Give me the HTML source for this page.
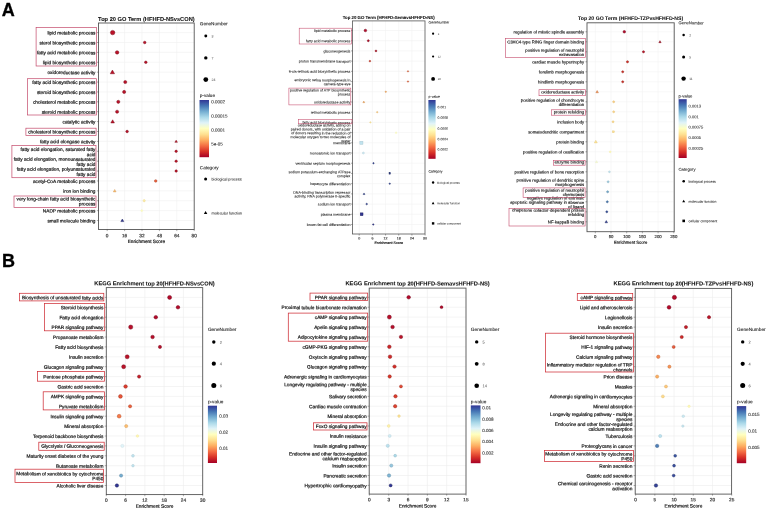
<!DOCTYPE html>
<html><head><meta charset="utf-8"><title>GO / KEGG enrichment</title>
<style>
html,body{margin:0;padding:0;background:#fff;}
body{width:767px;height:509px;overflow:hidden;}
svg{display:block;font-family:"Liberation Sans", sans-serif;will-change:transform;}
</style></head><body>
<svg width="767" height="509" viewBox="0 0 767 509">
<rect width="767" height="509" fill="#fff"/>
<text x="1.8" y="16" font-size="18" font-weight="bold" fill="#000" stroke="#000" stroke-width="0.3">A</text>
<text x="2.1" y="266.8" font-size="18" font-weight="bold" fill="#000" stroke="#000" stroke-width="0.3">B</text>
<g stroke-width="0.35" fill="none">
<line x1="107.20" y1="23" x2="107.20" y2="229.5" stroke="#f0f0f0" stroke-width="0.6"/>
<line x1="124.60" y1="23" x2="124.60" y2="229.5" stroke="#f0f0f0" stroke-width="0.6"/>
<line x1="142.00" y1="23" x2="142.00" y2="229.5" stroke="#f0f0f0" stroke-width="0.6"/>
<line x1="159.40" y1="23" x2="159.40" y2="229.5" stroke="#f0f0f0" stroke-width="0.6"/>
<line x1="176.80" y1="23" x2="176.80" y2="229.5" stroke="#f0f0f0" stroke-width="0.6"/>
<line x1="98.5" y1="32.60" x2="194.2" y2="32.60" stroke="#f0f0f0" stroke-width="0.6"/>
<line x1="98.5" y1="42.49" x2="194.2" y2="42.49" stroke="#f0f0f0" stroke-width="0.6"/>
<line x1="98.5" y1="52.38" x2="194.2" y2="52.38" stroke="#f0f0f0" stroke-width="0.6"/>
<line x1="98.5" y1="62.27" x2="194.2" y2="62.27" stroke="#f0f0f0" stroke-width="0.6"/>
<line x1="98.5" y1="72.16" x2="194.2" y2="72.16" stroke="#f0f0f0" stroke-width="0.6"/>
<line x1="98.5" y1="82.05" x2="194.2" y2="82.05" stroke="#f0f0f0" stroke-width="0.6"/>
<line x1="98.5" y1="91.94" x2="194.2" y2="91.94" stroke="#f0f0f0" stroke-width="0.6"/>
<line x1="98.5" y1="101.83" x2="194.2" y2="101.83" stroke="#f0f0f0" stroke-width="0.6"/>
<line x1="98.5" y1="111.72" x2="194.2" y2="111.72" stroke="#f0f0f0" stroke-width="0.6"/>
<line x1="98.5" y1="121.61" x2="194.2" y2="121.61" stroke="#f0f0f0" stroke-width="0.6"/>
<line x1="98.5" y1="131.50" x2="194.2" y2="131.50" stroke="#f0f0f0" stroke-width="0.6"/>
<line x1="98.5" y1="141.39" x2="194.2" y2="141.39" stroke="#f0f0f0" stroke-width="0.6"/>
<line x1="98.5" y1="151.28" x2="194.2" y2="151.28" stroke="#f0f0f0" stroke-width="0.6"/>
<line x1="98.5" y1="161.17" x2="194.2" y2="161.17" stroke="#f0f0f0" stroke-width="0.6"/>
<line x1="98.5" y1="171.06" x2="194.2" y2="171.06" stroke="#f0f0f0" stroke-width="0.6"/>
<line x1="98.5" y1="180.95" x2="194.2" y2="180.95" stroke="#f0f0f0" stroke-width="0.6"/>
<line x1="98.5" y1="190.84" x2="194.2" y2="190.84" stroke="#f0f0f0" stroke-width="0.6"/>
<line x1="98.5" y1="200.73" x2="194.2" y2="200.73" stroke="#f0f0f0" stroke-width="0.6"/>
<line x1="98.5" y1="210.62" x2="194.2" y2="210.62" stroke="#f0f0f0" stroke-width="0.6"/>
<line x1="98.5" y1="220.51" x2="194.2" y2="220.51" stroke="#f0f0f0" stroke-width="0.6"/>
</g>
<circle cx="112.64" cy="32.60" r="2.22" fill="#bb1229" stroke="#750b19" stroke-width="0.45"/>
<circle cx="144.72" cy="42.49" r="1.29" fill="#bb1229" stroke="#750b19" stroke-width="0.45"/>
<circle cx="117.10" cy="52.38" r="1.75" fill="#bb1229" stroke="#750b19" stroke-width="0.45"/>
<circle cx="145.81" cy="62.27" r="1.29" fill="#bb1229" stroke="#750b19" stroke-width="0.45"/>
<polygon points="112.42,70.03 114.55,73.76 110.29,73.76" fill="#bb1229" stroke="#750b19" stroke-width="0.45"/>
<circle cx="125.25" cy="82.05" r="1.57" fill="#bb1229" stroke="#750b19" stroke-width="0.45"/>
<circle cx="124.16" cy="91.94" r="1.57" fill="#bb1229" stroke="#750b19" stroke-width="0.45"/>
<circle cx="118.29" cy="101.83" r="1.57" fill="#bb1229" stroke="#750b19" stroke-width="0.45"/>
<circle cx="117.10" cy="111.72" r="1.57" fill="#bb1229" stroke="#750b19" stroke-width="0.45"/>
<polygon points="112.64,119.80 114.44,122.96 110.83,122.96" fill="#bb1229" stroke="#750b19" stroke-width="0.45"/>
<circle cx="127.10" cy="131.50" r="1.29" fill="#bb1229" stroke="#750b19" stroke-width="0.45"/>
<polygon points="176.15,140.13 177.41,142.34 174.88,142.34" fill="#be1529" stroke="#780d19" stroke-width="0.45"/>
<circle cx="176.15" cy="151.28" r="1.20" fill="#be1529" stroke="#780d19" stroke-width="0.45"/>
<circle cx="176.15" cy="161.17" r="1.20" fill="#be1529" stroke="#780d19" stroke-width="0.45"/>
<circle cx="176.15" cy="171.06" r="1.20" fill="#be1529" stroke="#780d19" stroke-width="0.45"/>
<circle cx="155.70" cy="180.95" r="1.29" fill="#ee613d" stroke="#a8442b" stroke-width="0.45"/>
<polygon points="114.70,189.46 116.08,191.88 113.32,191.88" fill="#fdbd6f" stroke="#d29d5c" stroke-width="0.45"/>
<circle cx="144.18" cy="200.73" r="1.15" fill="#feeca3" stroke="#e9d895" stroke-width="0.45"/>
<circle cx="141.78" cy="210.62" r="0.96" fill="#ffffbf" stroke="#f4f4b7" stroke-width="0.45"/>
<polygon points="122.32,219.03 123.80,221.62 120.83,221.62" fill="#313695" stroke="#1e215c" stroke-width="0.45"/>
<rect x="98.5" y="23" width="95.70" height="206.50" fill="none" stroke="#555" stroke-width="0.9"/>
<line x1="96.90" y1="32.60" x2="98.5" y2="32.60" stroke="#333" stroke-width="0.4"/>
<text transform="translate(95.50,34.59) skewY(0.06)" font-size="4.75" text-anchor="end" fill="#1a1a1a" stroke="#1a1a1a" stroke-width="0.214">lipid metabolic process</text>
<line x1="96.90" y1="42.49" x2="98.5" y2="42.49" stroke="#333" stroke-width="0.4"/>
<text transform="translate(95.50,44.48) skewY(0.06)" font-size="4.75" text-anchor="end" fill="#1a1a1a" stroke="#1a1a1a" stroke-width="0.214">sterol biosynthetic process</text>
<line x1="96.90" y1="52.38" x2="98.5" y2="52.38" stroke="#333" stroke-width="0.4"/>
<text transform="translate(95.50,54.38) skewY(0.06)" font-size="4.75" text-anchor="end" fill="#1a1a1a" stroke="#1a1a1a" stroke-width="0.214">fatty acid metabolic process</text>
<line x1="96.90" y1="62.27" x2="98.5" y2="62.27" stroke="#333" stroke-width="0.4"/>
<text transform="translate(95.50,64.27) skewY(0.06)" font-size="4.75" text-anchor="end" fill="#1a1a1a" stroke="#1a1a1a" stroke-width="0.214">lipid biosynthetic process</text>
<line x1="96.90" y1="72.16" x2="98.5" y2="72.16" stroke="#333" stroke-width="0.4"/>
<text transform="translate(95.50,74.16) skewY(0.06)" font-size="4.75" text-anchor="end" fill="#1a1a1a" stroke="#1a1a1a" stroke-width="0.214">oxidoreductase activity</text>
<line x1="96.90" y1="82.05" x2="98.5" y2="82.05" stroke="#333" stroke-width="0.4"/>
<text transform="translate(95.50,84.05) skewY(0.06)" font-size="4.75" text-anchor="end" fill="#1a1a1a" stroke="#1a1a1a" stroke-width="0.214">fatty acid biosynthetic process</text>
<line x1="96.90" y1="91.94" x2="98.5" y2="91.94" stroke="#333" stroke-width="0.4"/>
<text transform="translate(95.50,93.94) skewY(0.06)" font-size="4.75" text-anchor="end" fill="#1a1a1a" stroke="#1a1a1a" stroke-width="0.214">steroid biosynthetic process</text>
<line x1="96.90" y1="101.83" x2="98.5" y2="101.83" stroke="#333" stroke-width="0.4"/>
<text transform="translate(95.50,103.83) skewY(0.06)" font-size="4.75" text-anchor="end" fill="#1a1a1a" stroke="#1a1a1a" stroke-width="0.214">cholesterol metabolic process</text>
<line x1="96.90" y1="111.72" x2="98.5" y2="111.72" stroke="#333" stroke-width="0.4"/>
<text transform="translate(95.50,113.72) skewY(0.06)" font-size="4.75" text-anchor="end" fill="#1a1a1a" stroke="#1a1a1a" stroke-width="0.214">steroid metabolic process</text>
<line x1="96.90" y1="121.61" x2="98.5" y2="121.61" stroke="#333" stroke-width="0.4"/>
<text transform="translate(95.50,123.61) skewY(0.06)" font-size="4.75" text-anchor="end" fill="#1a1a1a" stroke="#1a1a1a" stroke-width="0.214">catalytic activity</text>
<line x1="96.90" y1="131.50" x2="98.5" y2="131.50" stroke="#333" stroke-width="0.4"/>
<text transform="translate(95.50,133.50) skewY(0.06)" font-size="4.75" text-anchor="end" fill="#1a1a1a" stroke="#1a1a1a" stroke-width="0.214">cholesterol biosynthetic process</text>
<line x1="96.90" y1="141.39" x2="98.5" y2="141.39" stroke="#333" stroke-width="0.4"/>
<text transform="translate(95.50,143.39) skewY(0.06)" font-size="4.75" text-anchor="end" fill="#1a1a1a" stroke="#1a1a1a" stroke-width="0.214">fatty acid elongase activity</text>
<line x1="96.90" y1="151.28" x2="98.5" y2="151.28" stroke="#333" stroke-width="0.4"/>
<text transform="translate(95.50,151.01) skewY(0.06)" font-size="4.75" text-anchor="end" fill="#1a1a1a" stroke="#1a1a1a" stroke-width="0.214">fatty acid elongation, saturated fatty</text>
<text transform="translate(95.50,156.14) skewY(0.06)" font-size="4.75" text-anchor="end" fill="#1a1a1a" stroke="#1a1a1a" stroke-width="0.214">acid</text>
<line x1="96.90" y1="161.17" x2="98.5" y2="161.17" stroke="#333" stroke-width="0.4"/>
<text transform="translate(95.50,160.90) skewY(0.06)" font-size="4.75" text-anchor="end" fill="#1a1a1a" stroke="#1a1a1a" stroke-width="0.214">fatty acid elongation, monounsaturated</text>
<text transform="translate(95.50,166.03) skewY(0.06)" font-size="4.75" text-anchor="end" fill="#1a1a1a" stroke="#1a1a1a" stroke-width="0.214">fatty acid</text>
<line x1="96.90" y1="171.06" x2="98.5" y2="171.06" stroke="#333" stroke-width="0.4"/>
<text transform="translate(95.50,170.79) skewY(0.06)" font-size="4.75" text-anchor="end" fill="#1a1a1a" stroke="#1a1a1a" stroke-width="0.214">fatty acid elongation, polyunsaturated</text>
<text transform="translate(95.50,175.92) skewY(0.06)" font-size="4.75" text-anchor="end" fill="#1a1a1a" stroke="#1a1a1a" stroke-width="0.214">fatty acid</text>
<line x1="96.90" y1="180.95" x2="98.5" y2="180.95" stroke="#333" stroke-width="0.4"/>
<text transform="translate(95.50,182.95) skewY(0.06)" font-size="4.75" text-anchor="end" fill="#1a1a1a" stroke="#1a1a1a" stroke-width="0.214">acetyl-CoA metabolic process</text>
<line x1="96.90" y1="190.84" x2="98.5" y2="190.84" stroke="#333" stroke-width="0.4"/>
<text transform="translate(95.50,192.84) skewY(0.06)" font-size="4.75" text-anchor="end" fill="#1a1a1a" stroke="#1a1a1a" stroke-width="0.214">iron ion binding</text>
<line x1="96.90" y1="200.73" x2="98.5" y2="200.73" stroke="#333" stroke-width="0.4"/>
<text transform="translate(95.50,200.46) skewY(0.06)" font-size="4.75" text-anchor="end" fill="#1a1a1a" stroke="#1a1a1a" stroke-width="0.214">very long-chain fatty acid biosynthetic</text>
<text transform="translate(95.50,205.59) skewY(0.06)" font-size="4.75" text-anchor="end" fill="#1a1a1a" stroke="#1a1a1a" stroke-width="0.214">process</text>
<line x1="96.90" y1="210.62" x2="98.5" y2="210.62" stroke="#333" stroke-width="0.4"/>
<text transform="translate(95.50,212.62) skewY(0.06)" font-size="4.75" text-anchor="end" fill="#1a1a1a" stroke="#1a1a1a" stroke-width="0.214">NADP metabolic process</text>
<line x1="96.90" y1="220.51" x2="98.5" y2="220.51" stroke="#333" stroke-width="0.4"/>
<text transform="translate(95.50,222.51) skewY(0.06)" font-size="4.75" text-anchor="end" fill="#1a1a1a" stroke="#1a1a1a" stroke-width="0.214">small molecule binding</text>
<line x1="107.20" y1="229.5" x2="107.20" y2="231.1" stroke="#333" stroke-width="0.4"/>
<text transform="translate(107.20,237.30) skewY(0.06)" font-size="4.75" text-anchor="middle" fill="#404040" stroke="#404040" stroke-width="0.214">0</text>
<line x1="124.60" y1="229.5" x2="124.60" y2="231.1" stroke="#333" stroke-width="0.4"/>
<text transform="translate(124.60,237.30) skewY(0.06)" font-size="4.75" text-anchor="middle" fill="#404040" stroke="#404040" stroke-width="0.214">16</text>
<line x1="142.00" y1="229.5" x2="142.00" y2="231.1" stroke="#333" stroke-width="0.4"/>
<text transform="translate(142.00,237.30) skewY(0.06)" font-size="4.75" text-anchor="middle" fill="#404040" stroke="#404040" stroke-width="0.214">32</text>
<line x1="159.40" y1="229.5" x2="159.40" y2="231.1" stroke="#333" stroke-width="0.4"/>
<text transform="translate(159.40,237.30) skewY(0.06)" font-size="4.75" text-anchor="middle" fill="#404040" stroke="#404040" stroke-width="0.214">48</text>
<line x1="176.80" y1="229.5" x2="176.80" y2="231.1" stroke="#333" stroke-width="0.4"/>
<text transform="translate(176.80,237.30) skewY(0.06)" font-size="4.75" text-anchor="middle" fill="#404040" stroke="#404040" stroke-width="0.214">64</text>
<line x1="194.20" y1="229.5" x2="194.20" y2="231.1" stroke="#333" stroke-width="0.4"/>
<text transform="translate(194.20,237.30) skewY(0.06)" font-size="4.75" text-anchor="middle" fill="#404040" stroke="#404040" stroke-width="0.214">80</text>
<text transform="translate(146.35,242.98) skewY(0.06)" font-size="4.71" text-anchor="middle" fill="#1a1a1a" stroke="#1a1a1a" stroke-width="0.212">Enrichment Score</text>
<text transform="translate(146.35,20.99) skewY(0.06)" font-size="5.68" text-anchor="middle" font-weight="bold" fill="#111" stroke="#111" stroke-width="0.068">Top 20 GO Term (HFHFD-NSvsCON)</text>
<rect x="36.1" y="27.6" width="60.40" height="38.40" fill="none" stroke="#c4496a" stroke-width="0.7"/>
<rect x="27.6" y="78.7" width="68.90" height="36.30" fill="none" stroke="#c4496a" stroke-width="0.7"/>
<rect x="25.9" y="128.2" width="70.20" height="7.30" fill="none" stroke="#c4496a" stroke-width="0.7"/>
<rect x="11.9" y="145.5" width="84.10" height="32.20" fill="none" stroke="#c4496a" stroke-width="0.7"/>
<rect x="14" y="196" width="82.00" height="11.50" fill="none" stroke="#c4496a" stroke-width="0.7"/>
<text transform="translate(199.80,25.14) skewY(0.06)" font-size="4.63" text-anchor="start" fill="#222" stroke="#222" stroke-width="0.093">GeneNumber</text>
<circle cx="205.8" cy="36.0" r="1.45" fill="#000"/>
<text transform="translate(211.50,37.51) skewY(0.06)" font-size="3.6" text-anchor="start" fill="#444">3</text>
<circle cx="205.8" cy="57.9" r="1.7" fill="#000"/>
<text transform="translate(211.50,59.41) skewY(0.06)" font-size="3.6" text-anchor="start" fill="#444">7</text>
<circle cx="205.8" cy="79.6" r="2.4" fill="#000"/>
<text transform="translate(211.50,81.11) skewY(0.06)" font-size="3.6" text-anchor="start" fill="#444">24</text>
<text transform="translate(199.80,96.94) skewY(0.06)" font-size="4.63" text-anchor="start" fill="#222" stroke="#222" stroke-width="0.093">p-value</text>
<defs><linearGradient id="a1g" x1="0" y1="0" x2="0" y2="1"><stop offset="0.000" stop-color="#313695"/><stop offset="0.100" stop-color="#4575b4"/><stop offset="0.200" stop-color="#74add1"/><stop offset="0.300" stop-color="#abd9e9"/><stop offset="0.400" stop-color="#e0f3f8"/><stop offset="0.500" stop-color="#ffffbf"/><stop offset="0.600" stop-color="#fee090"/><stop offset="0.700" stop-color="#fdae61"/><stop offset="0.800" stop-color="#f46d43"/><stop offset="0.900" stop-color="#d73027"/><stop offset="1.000" stop-color="#a50026"/></linearGradient></defs>
<rect x="199.5" y="100" width="9.50" height="57.20" fill="url(#a1g)"/>
<text transform="translate(211.20,103.19) skewY(0.06)" font-size="4.5" text-anchor="start" fill="#333" stroke="#333" stroke-width="0.090">0.0002</text>
<text transform="translate(211.20,117.39) skewY(0.06)" font-size="4.5" text-anchor="start" fill="#333" stroke="#333" stroke-width="0.090">0.00015</text>
<text transform="translate(211.20,131.49) skewY(0.06)" font-size="4.5" text-anchor="start" fill="#333" stroke="#333" stroke-width="0.090">0.0001</text>
<text transform="translate(211.20,145.59) skewY(0.06)" font-size="4.5" text-anchor="start" fill="#333" stroke="#333" stroke-width="0.090">5e-05</text>
<text transform="translate(199.80,169.24) skewY(0.06)" font-size="4.63" text-anchor="start" fill="#222" stroke="#222" stroke-width="0.093">Category</text>
<circle cx="205.60" cy="178.90" r="1.50" fill="#000000"/>
<text transform="translate(211.50,180.49) skewY(0.06)" font-size="3.79" text-anchor="start" fill="#333" stroke="#333" stroke-width="0.076">biological process</text>
<polygon points="205.60,211.08 207.32,214.09 203.88,214.09" fill="#000000"/>
<text transform="translate(211.50,214.39) skewY(0.06)" font-size="3.79" text-anchor="start" fill="#333" stroke="#333" stroke-width="0.076">molecular function</text>
<g stroke-width="0.35" fill="none">
<line x1="359.20" y1="20.9" x2="359.20" y2="234" stroke="#f2f2f2" stroke-width="0.6"/>
<line x1="372.38" y1="20.9" x2="372.38" y2="234" stroke="#f2f2f2" stroke-width="0.6"/>
<line x1="385.56" y1="20.9" x2="385.56" y2="234" stroke="#f2f2f2" stroke-width="0.6"/>
<line x1="398.74" y1="20.9" x2="398.74" y2="234" stroke="#f2f2f2" stroke-width="0.6"/>
<line x1="411.92" y1="20.9" x2="411.92" y2="234" stroke="#f2f2f2" stroke-width="0.6"/>
<line x1="352.4" y1="30.50" x2="425" y2="30.50" stroke="#f2f2f2" stroke-width="0.6"/>
<line x1="352.4" y1="40.71" x2="425" y2="40.71" stroke="#f2f2f2" stroke-width="0.6"/>
<line x1="352.4" y1="50.92" x2="425" y2="50.92" stroke="#f2f2f2" stroke-width="0.6"/>
<line x1="352.4" y1="61.13" x2="425" y2="61.13" stroke="#f2f2f2" stroke-width="0.6"/>
<line x1="352.4" y1="71.34" x2="425" y2="71.34" stroke="#f2f2f2" stroke-width="0.6"/>
<line x1="352.4" y1="81.55" x2="425" y2="81.55" stroke="#f2f2f2" stroke-width="0.6"/>
<line x1="352.4" y1="91.76" x2="425" y2="91.76" stroke="#f2f2f2" stroke-width="0.6"/>
<line x1="352.4" y1="101.97" x2="425" y2="101.97" stroke="#f2f2f2" stroke-width="0.6"/>
<line x1="352.4" y1="112.18" x2="425" y2="112.18" stroke="#f2f2f2" stroke-width="0.6"/>
<line x1="352.4" y1="122.39" x2="425" y2="122.39" stroke="#f2f2f2" stroke-width="0.6"/>
<line x1="352.4" y1="132.60" x2="425" y2="132.60" stroke="#f2f2f2" stroke-width="0.6"/>
<line x1="352.4" y1="142.81" x2="425" y2="142.81" stroke="#f2f2f2" stroke-width="0.6"/>
<line x1="352.4" y1="153.02" x2="425" y2="153.02" stroke="#f2f2f2" stroke-width="0.6"/>
<line x1="352.4" y1="163.23" x2="425" y2="163.23" stroke="#f2f2f2" stroke-width="0.6"/>
<line x1="352.4" y1="173.44" x2="425" y2="173.44" stroke="#f2f2f2" stroke-width="0.6"/>
<line x1="352.4" y1="183.65" x2="425" y2="183.65" stroke="#f2f2f2" stroke-width="0.6"/>
<line x1="352.4" y1="193.86" x2="425" y2="193.86" stroke="#f2f2f2" stroke-width="0.6"/>
<line x1="352.4" y1="204.07" x2="425" y2="204.07" stroke="#f2f2f2" stroke-width="0.6"/>
<line x1="352.4" y1="214.28" x2="425" y2="214.28" stroke="#f2f2f2" stroke-width="0.6"/>
<line x1="352.4" y1="224.49" x2="425" y2="224.49" stroke="#f2f2f2" stroke-width="0.6"/>
</g>
<circle cx="365.39" cy="30.50" r="1.30" fill="#b40a2a" stroke="#70061a" stroke-width="0.45"/>
<circle cx="368.29" cy="40.71" r="1.00" fill="#b80e2a" stroke="#73081a" stroke-width="0.45"/>
<circle cx="375.98" cy="50.92" r="0.90" fill="#be1529" stroke="#780d19" stroke-width="0.45"/>
<circle cx="369.90" cy="61.13" r="0.80" fill="#e0422f" stroke="#962c1f" stroke-width="0.45"/>
<circle cx="407.97" cy="71.34" r="0.70" fill="#f46d43" stroke="#b04e30" stroke-width="0.45"/>
<circle cx="407.97" cy="81.55" r="0.70" fill="#f46d43" stroke="#b04e30" stroke-width="0.45"/>
<circle cx="385.78" cy="91.76" r="0.70" fill="#fdae61" stroke="#cc8c4e" stroke-width="0.45"/>
<polygon points="363.81,101.05 364.73,102.66 362.89,102.66" fill="#fdae61" stroke="#cc8c4e" stroke-width="0.45"/>
<circle cx="377.21" cy="112.18" r="0.70" fill="#fecc7d" stroke="#d9ae6b" stroke-width="0.45"/>
<circle cx="370.40" cy="122.39" r="0.70" fill="#fee699" stroke="#e5d08a" stroke-width="0.45"/>
<polygon points="396.10,131.68 397.02,133.29 395.18,133.29" fill="#ffffbf" stroke="#f4f4b7" stroke-width="0.45"/>
<rect x="359.85" y="141.26" width="3.10" height="3.10" fill="#c0e3ef" stroke="#a8c7d1" stroke-width="0.45"/>
<circle cx="363.37" cy="153.02" r="1.00" fill="#cbe9f2" stroke="#b5d0d8" stroke-width="0.45"/>
<circle cx="373.48" cy="163.23" r="0.70" fill="#37499e" stroke="#222e64" stroke-width="0.45"/>
<rect x="389.03" y="172.74" width="1.40" height="1.40" fill="#37499e" stroke="#222e64" stroke-width="0.45"/>
<circle cx="389.73" cy="183.65" r="0.70" fill="#37499e" stroke="#222e64" stroke-width="0.45"/>
<polygon points="364.03,192.94 364.95,194.55 363.11,194.55" fill="#37499e" stroke="#222e64" stroke-width="0.45"/>
<circle cx="366.67" cy="204.07" r="0.80" fill="#37499e" stroke="#222e64" stroke-width="0.45"/>
<rect x="360.22" y="212.88" width="2.80" height="2.80" fill="#313695" stroke="#1e215c" stroke-width="0.45"/>
<circle cx="373.26" cy="224.49" r="0.70" fill="#313695" stroke="#1e215c" stroke-width="0.45"/>
<rect x="352.4" y="20.9" width="72.60" height="213.10" fill="none" stroke="#555" stroke-width="0.8"/>
<line x1="350.80" y1="30.50" x2="352.4" y2="30.50" stroke="#333" stroke-width="0.4"/>
<text transform="translate(350.40,32.01) skewY(0.06)" font-size="3.6" text-anchor="end" fill="#262626" stroke="#262626" stroke-width="0.072">lipid metabolic process</text>
<line x1="350.80" y1="40.71" x2="352.4" y2="40.71" stroke="#333" stroke-width="0.4"/>
<text transform="translate(350.40,42.22) skewY(0.06)" font-size="3.6" text-anchor="end" fill="#262626" stroke="#262626" stroke-width="0.072">fatty acid metabolic process</text>
<line x1="350.80" y1="50.92" x2="352.4" y2="50.92" stroke="#333" stroke-width="0.4"/>
<text transform="translate(350.40,52.43) skewY(0.06)" font-size="3.6" text-anchor="end" fill="#262626" stroke="#262626" stroke-width="0.072">gluconeogenesis</text>
<line x1="350.80" y1="61.13" x2="352.4" y2="61.13" stroke="#333" stroke-width="0.4"/>
<text transform="translate(350.40,62.64) skewY(0.06)" font-size="3.6" text-anchor="end" fill="#262626" stroke="#262626" stroke-width="0.072">proton transmembrane transport</text>
<line x1="350.80" y1="71.34" x2="352.4" y2="71.34" stroke="#333" stroke-width="0.4"/>
<text transform="translate(350.40,72.85) skewY(0.06)" font-size="3.6" text-anchor="end" fill="#262626" stroke="#262626" stroke-width="0.072">9-cis-retinoic acid biosynthetic process</text>
<line x1="350.80" y1="81.55" x2="352.4" y2="81.55" stroke="#333" stroke-width="0.4"/>
<text transform="translate(350.40,81.41) skewY(0.06)" font-size="3.6" text-anchor="end" fill="#262626" stroke="#262626" stroke-width="0.072">embryonic retina morphogenesis in</text>
<text transform="translate(350.40,85.31) skewY(0.06)" font-size="3.6" text-anchor="end" fill="#262626" stroke="#262626" stroke-width="0.072">camera-type eye</text>
<line x1="350.80" y1="91.76" x2="352.4" y2="91.76" stroke="#333" stroke-width="0.4"/>
<text transform="translate(350.40,91.62) skewY(0.06)" font-size="3.6" text-anchor="end" fill="#262626" stroke="#262626" stroke-width="0.072">positive regulation of ATP biosynthetic</text>
<text transform="translate(350.40,95.52) skewY(0.06)" font-size="3.6" text-anchor="end" fill="#262626" stroke="#262626" stroke-width="0.072">process</text>
<line x1="350.80" y1="101.97" x2="352.4" y2="101.97" stroke="#333" stroke-width="0.4"/>
<text transform="translate(350.40,103.48) skewY(0.06)" font-size="3.6" text-anchor="end" fill="#262626" stroke="#262626" stroke-width="0.072">oxidoreductase activity</text>
<line x1="350.80" y1="112.18" x2="352.4" y2="112.18" stroke="#333" stroke-width="0.4"/>
<text transform="translate(350.40,113.69) skewY(0.06)" font-size="3.6" text-anchor="end" fill="#262626" stroke="#262626" stroke-width="0.072">retinol metabolic process</text>
<line x1="350.80" y1="122.39" x2="352.4" y2="122.39" stroke="#333" stroke-width="0.4"/>
<text transform="translate(350.40,123.90) skewY(0.06)" font-size="3.6" text-anchor="end" fill="#262626" stroke="#262626" stroke-width="0.072">fatty acid biosynthetic process</text>
<line x1="350.80" y1="132.60" x2="352.4" y2="132.60" stroke="#333" stroke-width="0.4"/>
<text transform="translate(350.40,126.61) skewY(0.06)" font-size="3.6" text-anchor="end" fill="#262626" stroke="#262626" stroke-width="0.072">oxidoreductase activity, acting on</text>
<text transform="translate(350.40,130.51) skewY(0.06)" font-size="3.6" text-anchor="end" fill="#262626" stroke="#262626" stroke-width="0.072">paired donors, with oxidation of a pair</text>
<text transform="translate(350.40,134.41) skewY(0.06)" font-size="3.6" text-anchor="end" fill="#262626" stroke="#262626" stroke-width="0.072">of donors resulting in the reduction of</text>
<text transform="translate(350.40,138.31) skewY(0.06)" font-size="3.6" text-anchor="end" fill="#262626" stroke="#262626" stroke-width="0.072">molecular oxygen to two molecules of</text>
<text transform="translate(350.40,142.21) skewY(0.06)" font-size="3.6" text-anchor="end" fill="#262626" stroke="#262626" stroke-width="0.072">water</text>
<line x1="350.80" y1="142.81" x2="352.4" y2="142.81" stroke="#333" stroke-width="0.4"/>
<text transform="translate(350.40,144.32) skewY(0.06)" font-size="3.6" text-anchor="end" fill="#262626" stroke="#262626" stroke-width="0.072">membrane</text>
<line x1="350.80" y1="153.02" x2="352.4" y2="153.02" stroke="#333" stroke-width="0.4"/>
<text transform="translate(350.40,154.53) skewY(0.06)" font-size="3.6" text-anchor="end" fill="#262626" stroke="#262626" stroke-width="0.072">monoatomic ion transport</text>
<line x1="350.80" y1="163.23" x2="352.4" y2="163.23" stroke="#333" stroke-width="0.4"/>
<text transform="translate(350.40,164.74) skewY(0.06)" font-size="3.6" text-anchor="end" fill="#262626" stroke="#262626" stroke-width="0.072">ventricular septum morphogenesis</text>
<line x1="350.80" y1="173.44" x2="352.4" y2="173.44" stroke="#333" stroke-width="0.4"/>
<text transform="translate(350.40,173.30) skewY(0.06)" font-size="3.6" text-anchor="end" fill="#262626" stroke="#262626" stroke-width="0.072">sodium potassium-exchanging ATPase</text>
<text transform="translate(350.40,177.20) skewY(0.06)" font-size="3.6" text-anchor="end" fill="#262626" stroke="#262626" stroke-width="0.072">complex</text>
<line x1="350.80" y1="183.65" x2="352.4" y2="183.65" stroke="#333" stroke-width="0.4"/>
<text transform="translate(350.40,185.16) skewY(0.06)" font-size="3.6" text-anchor="end" fill="#262626" stroke="#262626" stroke-width="0.072">hepatocyte differentiation</text>
<line x1="350.80" y1="193.86" x2="352.4" y2="193.86" stroke="#333" stroke-width="0.4"/>
<text transform="translate(350.40,193.72) skewY(0.06)" font-size="3.6" text-anchor="end" fill="#262626" stroke="#262626" stroke-width="0.072">DNA-binding transcription repressor</text>
<text transform="translate(350.40,197.62) skewY(0.06)" font-size="3.6" text-anchor="end" fill="#262626" stroke="#262626" stroke-width="0.072">activity, RNA polymerase II-specific</text>
<line x1="350.80" y1="204.07" x2="352.4" y2="204.07" stroke="#333" stroke-width="0.4"/>
<text transform="translate(350.40,205.58) skewY(0.06)" font-size="3.6" text-anchor="end" fill="#262626" stroke="#262626" stroke-width="0.072">sodium ion transport</text>
<line x1="350.80" y1="214.28" x2="352.4" y2="214.28" stroke="#333" stroke-width="0.4"/>
<text transform="translate(350.40,215.79) skewY(0.06)" font-size="3.6" text-anchor="end" fill="#262626" stroke="#262626" stroke-width="0.072">plasma membrane</text>
<line x1="350.80" y1="224.49" x2="352.4" y2="224.49" stroke="#333" stroke-width="0.4"/>
<text transform="translate(350.40,226.00) skewY(0.06)" font-size="3.6" text-anchor="end" fill="#262626" stroke="#262626" stroke-width="0.072">brown fat cell differentiation</text>
<line x1="359.20" y1="234" x2="359.20" y2="235.6" stroke="#333" stroke-width="0.4"/>
<text transform="translate(359.20,239.41) skewY(0.06)" font-size="3.6" text-anchor="middle" fill="#404040" stroke="#404040" stroke-width="0.162">0</text>
<line x1="372.38" y1="234" x2="372.38" y2="235.6" stroke="#333" stroke-width="0.4"/>
<text transform="translate(372.38,239.41) skewY(0.06)" font-size="3.6" text-anchor="middle" fill="#404040" stroke="#404040" stroke-width="0.162">6</text>
<line x1="385.56" y1="234" x2="385.56" y2="235.6" stroke="#333" stroke-width="0.4"/>
<text transform="translate(385.56,239.41) skewY(0.06)" font-size="3.6" text-anchor="middle" fill="#404040" stroke="#404040" stroke-width="0.162">12</text>
<line x1="398.74" y1="234" x2="398.74" y2="235.6" stroke="#333" stroke-width="0.4"/>
<text transform="translate(398.74,239.41) skewY(0.06)" font-size="3.6" text-anchor="middle" fill="#404040" stroke="#404040" stroke-width="0.162">18</text>
<line x1="411.92" y1="234" x2="411.92" y2="235.6" stroke="#333" stroke-width="0.4"/>
<text transform="translate(411.92,239.41) skewY(0.06)" font-size="3.6" text-anchor="middle" fill="#404040" stroke="#404040" stroke-width="0.162">24</text>
<line x1="425.10" y1="234" x2="425.10" y2="235.6" stroke="#333" stroke-width="0.4"/>
<text transform="translate(425.10,239.41) skewY(0.06)" font-size="3.6" text-anchor="middle" fill="#404040" stroke="#404040" stroke-width="0.162">30</text>
<text transform="translate(388.70,244.11) skewY(0.06)" font-size="3.6" text-anchor="middle" fill="#1a1a1a" stroke="#1a1a1a" stroke-width="0.162">Enrichment Score</text>
<text transform="translate(388.70,18.93) skewY(0.06)" font-size="4.35" text-anchor="middle" font-weight="bold" fill="#111" stroke="#111" stroke-width="0.087">Top 20 GO Term (HFHFD-SemavsHFHFD-NS)</text>
<rect x="299.2" y="28.2" width="52.10" height="15.80" fill="none" stroke="#c4496a" stroke-width="0.55"/>
<rect x="288.9" y="88.1" width="61.90" height="16.80" fill="none" stroke="#c4496a" stroke-width="0.55"/>
<rect x="298.3" y="119.3" width="53.70" height="4.50" fill="none" stroke="#c4496a" stroke-width="0.55"/>
<text transform="translate(428.60,23.45) skewY(0.06)" font-size="3.45" text-anchor="start" fill="#222" stroke="#222" stroke-width="0.069">GeneNumber</text>
<circle cx="433.1" cy="33.7" r="1.1" fill="#000"/>
<text transform="translate(437.80,34.88) skewY(0.06)" font-size="2.8" text-anchor="start" fill="#444">3</text>
<circle cx="433.1" cy="56.5" r="1.1" fill="#000"/>
<text transform="translate(437.80,57.68) skewY(0.06)" font-size="2.8" text-anchor="start" fill="#444">12</text>
<circle cx="433.1" cy="78.9" r="1.9" fill="#000"/>
<text transform="translate(437.80,80.08) skewY(0.06)" font-size="2.8" text-anchor="start" fill="#444">30</text>
<text transform="translate(428.60,97.75) skewY(0.06)" font-size="3.45" text-anchor="start" fill="#222" stroke="#222" stroke-width="0.069">p-value</text>
<defs><linearGradient id="a2g" x1="0" y1="0" x2="0" y2="1"><stop offset="0.000" stop-color="#313695"/><stop offset="0.100" stop-color="#4575b4"/><stop offset="0.200" stop-color="#74add1"/><stop offset="0.300" stop-color="#abd9e9"/><stop offset="0.400" stop-color="#e0f3f8"/><stop offset="0.500" stop-color="#ffffbf"/><stop offset="0.600" stop-color="#fee090"/><stop offset="0.700" stop-color="#fdae61"/><stop offset="0.800" stop-color="#f46d43"/><stop offset="0.900" stop-color="#d73027"/><stop offset="1.000" stop-color="#a50026"/></linearGradient></defs>
<rect x="428.4" y="100" width="7.20" height="58.80" fill="url(#a2g)"/>
<text transform="translate(437.60,108.33) skewY(0.06)" font-size="3.4" text-anchor="start" fill="#333" stroke="#333" stroke-width="0.068">0.001</text>
<text transform="translate(437.60,118.73) skewY(0.06)" font-size="3.4" text-anchor="start" fill="#333" stroke="#333" stroke-width="0.068">0.0008</text>
<text transform="translate(437.60,129.73) skewY(0.06)" font-size="3.4" text-anchor="start" fill="#333" stroke="#333" stroke-width="0.068">0.0006</text>
<text transform="translate(437.60,140.13) skewY(0.06)" font-size="3.4" text-anchor="start" fill="#333" stroke="#333" stroke-width="0.068">0.0004</text>
<text transform="translate(437.60,150.53) skewY(0.06)" font-size="3.4" text-anchor="start" fill="#333" stroke="#333" stroke-width="0.068">0.0002</text>
<text transform="translate(428.60,172.55) skewY(0.06)" font-size="3.45" text-anchor="start" fill="#222" stroke="#222" stroke-width="0.069">Category</text>
<circle cx="433.10" cy="182.50" r="1.20" fill="#000000"/>
<text transform="translate(437.00,183.70) skewY(0.06)" font-size="2.85" text-anchor="start" fill="#333" stroke="#333" stroke-width="0.057">biological process</text>
<polygon points="433.10,201.72 434.48,204.13 431.72,204.13" fill="#000000"/>
<text transform="translate(437.00,204.30) skewY(0.06)" font-size="2.85" text-anchor="start" fill="#333" stroke="#333" stroke-width="0.057">molecular function</text>
<rect x="431.90" y="222.20" width="2.40" height="2.40" fill="#000000"/>
<text transform="translate(437.00,224.60) skewY(0.06)" font-size="2.85" text-anchor="start" fill="#333" stroke="#333" stroke-width="0.057">cellular component</text>
<g stroke-width="0.35" fill="none">
<line x1="595.30" y1="22.8" x2="595.30" y2="231.7" stroke="#f1f1f1" stroke-width="0.6"/>
<line x1="611.00" y1="22.8" x2="611.00" y2="231.7" stroke="#f1f1f1" stroke-width="0.6"/>
<line x1="626.70" y1="22.8" x2="626.70" y2="231.7" stroke="#f1f1f1" stroke-width="0.6"/>
<line x1="642.40" y1="22.8" x2="642.40" y2="231.7" stroke="#f1f1f1" stroke-width="0.6"/>
<line x1="658.10" y1="22.8" x2="658.10" y2="231.7" stroke="#f1f1f1" stroke-width="0.6"/>
<line x1="673.80" y1="22.8" x2="673.80" y2="231.7" stroke="#f1f1f1" stroke-width="0.6"/>
<line x1="587" y1="31.80" x2="674.2" y2="31.80" stroke="#f1f1f1" stroke-width="0.6"/>
<line x1="587" y1="41.80" x2="674.2" y2="41.80" stroke="#f1f1f1" stroke-width="0.6"/>
<line x1="587" y1="51.80" x2="674.2" y2="51.80" stroke="#f1f1f1" stroke-width="0.6"/>
<line x1="587" y1="61.80" x2="674.2" y2="61.80" stroke="#f1f1f1" stroke-width="0.6"/>
<line x1="587" y1="71.80" x2="674.2" y2="71.80" stroke="#f1f1f1" stroke-width="0.6"/>
<line x1="587" y1="81.80" x2="674.2" y2="81.80" stroke="#f1f1f1" stroke-width="0.6"/>
<line x1="587" y1="91.80" x2="674.2" y2="91.80" stroke="#f1f1f1" stroke-width="0.6"/>
<line x1="587" y1="101.80" x2="674.2" y2="101.80" stroke="#f1f1f1" stroke-width="0.6"/>
<line x1="587" y1="111.80" x2="674.2" y2="111.80" stroke="#f1f1f1" stroke-width="0.6"/>
<line x1="587" y1="121.80" x2="674.2" y2="121.80" stroke="#f1f1f1" stroke-width="0.6"/>
<line x1="587" y1="131.80" x2="674.2" y2="131.80" stroke="#f1f1f1" stroke-width="0.6"/>
<line x1="587" y1="141.80" x2="674.2" y2="141.80" stroke="#f1f1f1" stroke-width="0.6"/>
<line x1="587" y1="151.80" x2="674.2" y2="151.80" stroke="#f1f1f1" stroke-width="0.6"/>
<line x1="587" y1="161.80" x2="674.2" y2="161.80" stroke="#f1f1f1" stroke-width="0.6"/>
<line x1="587" y1="171.80" x2="674.2" y2="171.80" stroke="#f1f1f1" stroke-width="0.6"/>
<line x1="587" y1="181.80" x2="674.2" y2="181.80" stroke="#f1f1f1" stroke-width="0.6"/>
<line x1="587" y1="191.80" x2="674.2" y2="191.80" stroke="#f1f1f1" stroke-width="0.6"/>
<line x1="587" y1="201.80" x2="674.2" y2="201.80" stroke="#f1f1f1" stroke-width="0.6"/>
<line x1="587" y1="211.80" x2="674.2" y2="211.80" stroke="#f1f1f1" stroke-width="0.6"/>
<line x1="587" y1="221.80" x2="674.2" y2="221.80" stroke="#f1f1f1" stroke-width="0.6"/>
</g>
<circle cx="624.31" cy="31.80" r="1.30" fill="#b40a2a" stroke="#70061a" stroke-width="0.45"/>
<polygon points="659.98,40.65 661.13,42.66 658.83,42.66" fill="#bb1229" stroke="#750b19" stroke-width="0.45"/>
<circle cx="643.50" cy="51.80" r="1.10" fill="#be1529" stroke="#780d19" stroke-width="0.45"/>
<circle cx="627.48" cy="61.80" r="1.10" fill="#d73027" stroke="#8c1f19" stroke-width="0.45"/>
<circle cx="622.71" cy="71.80" r="1.05" fill="#d73027" stroke="#8c1f19" stroke-width="0.45"/>
<circle cx="622.71" cy="81.80" r="1.05" fill="#d73027" stroke="#8c1f19" stroke-width="0.45"/>
<polygon points="597.15,90.53 598.42,92.75 595.89,92.75" fill="#f99455" stroke="#bf7241" stroke-width="0.45"/>
<circle cx="613.67" cy="101.80" r="1.00" fill="#fed182" stroke="#dcb570" stroke-width="0.45"/>
<circle cx="613.67" cy="111.80" r="1.00" fill="#fed687" stroke="#debb76" stroke-width="0.45"/>
<circle cx="613.04" cy="121.80" r="1.00" fill="#fedb8b" stroke="#e0c17a" stroke-width="0.45"/>
<rect x="612.45" y="130.90" width="1.80" height="1.80" fill="#fee090" stroke="#e2c780" stroke-width="0.45"/>
<polygon points="595.80,140.31 597.30,142.92 594.31,142.92" fill="#fee395" stroke="#e4cc85" stroke-width="0.45"/>
<circle cx="610.21" cy="151.80" r="0.90" fill="#fff9b6" stroke="#f1ebac" stroke-width="0.45"/>
<polygon points="596.56,160.65 597.71,162.66 595.41,162.66" fill="#f6fbd0" stroke="#e9eec5" stroke-width="0.45"/>
<circle cx="609.43" cy="171.80" r="0.90" fill="#c0e3ef" stroke="#a8c7d1" stroke-width="0.45"/>
<circle cx="608.11" cy="181.80" r="1.00" fill="#a0d0e4" stroke="#83abbb" stroke-width="0.45"/>
<circle cx="607.61" cy="191.80" r="1.00" fill="#74add1" stroke="#56819c" stroke-width="0.45"/>
<circle cx="607.29" cy="201.80" r="1.00" fill="#4e80ba" stroke="#35577f" stroke-width="0.45"/>
<circle cx="606.79" cy="211.80" r="1.00" fill="#3b56a4" stroke="#253769" stroke-width="0.45"/>
<polygon points="606.29,220.54 607.55,222.75 605.02,222.75" fill="#35439b" stroke="#212a61" stroke-width="0.45"/>
<rect x="587" y="22.8" width="87.20" height="208.90" fill="none" stroke="#555" stroke-width="0.9"/>
<line x1="585.40" y1="31.80" x2="587" y2="31.80" stroke="#333" stroke-width="0.4"/>
<text transform="translate(584.20,33.59) skewY(0.06)" font-size="4.26" text-anchor="end" fill="#1a1a1a" stroke="#1a1a1a" stroke-width="0.149">regulation of mitotic spindle assembly</text>
<line x1="585.40" y1="41.80" x2="587" y2="41.80" stroke="#333" stroke-width="0.4"/>
<text transform="translate(584.20,43.59) skewY(0.06)" font-size="4.26" text-anchor="end" fill="#1a1a1a" stroke="#1a1a1a" stroke-width="0.149">C3HC4-type RING finger domain binding</text>
<line x1="585.40" y1="51.80" x2="587" y2="51.80" stroke="#333" stroke-width="0.4"/>
<text transform="translate(584.20,51.69) skewY(0.06)" font-size="4.26" text-anchor="end" fill="#1a1a1a" stroke="#1a1a1a" stroke-width="0.149">positive regulation of neutrophil</text>
<text transform="translate(584.20,56.09) skewY(0.06)" font-size="4.26" text-anchor="end" fill="#1a1a1a" stroke="#1a1a1a" stroke-width="0.149">extravasation</text>
<line x1="585.40" y1="61.80" x2="587" y2="61.80" stroke="#333" stroke-width="0.4"/>
<text transform="translate(584.20,63.59) skewY(0.06)" font-size="4.26" text-anchor="end" fill="#1a1a1a" stroke="#1a1a1a" stroke-width="0.149">cardiac muscle hypertrophy</text>
<line x1="585.40" y1="71.80" x2="587" y2="71.80" stroke="#333" stroke-width="0.4"/>
<text transform="translate(584.20,73.59) skewY(0.06)" font-size="4.26" text-anchor="end" fill="#1a1a1a" stroke="#1a1a1a" stroke-width="0.149">forelimb morphogenesis</text>
<line x1="585.40" y1="81.80" x2="587" y2="81.80" stroke="#333" stroke-width="0.4"/>
<text transform="translate(584.20,83.59) skewY(0.06)" font-size="4.26" text-anchor="end" fill="#1a1a1a" stroke="#1a1a1a" stroke-width="0.149">hindlimb morphogenesis</text>
<line x1="585.40" y1="91.80" x2="587" y2="91.80" stroke="#333" stroke-width="0.4"/>
<text transform="translate(584.20,93.59) skewY(0.06)" font-size="4.26" text-anchor="end" fill="#1a1a1a" stroke="#1a1a1a" stroke-width="0.149">oxidoreductase activity</text>
<line x1="585.40" y1="101.80" x2="587" y2="101.80" stroke="#333" stroke-width="0.4"/>
<text transform="translate(584.20,101.69) skewY(0.06)" font-size="4.26" text-anchor="end" fill="#1a1a1a" stroke="#1a1a1a" stroke-width="0.149">positive regulation of chondrocyte</text>
<text transform="translate(584.20,106.09) skewY(0.06)" font-size="4.26" text-anchor="end" fill="#1a1a1a" stroke="#1a1a1a" stroke-width="0.149">differentiation</text>
<line x1="585.40" y1="111.80" x2="587" y2="111.80" stroke="#333" stroke-width="0.4"/>
<text transform="translate(584.20,113.59) skewY(0.06)" font-size="4.26" text-anchor="end" fill="#1a1a1a" stroke="#1a1a1a" stroke-width="0.149">protein refolding</text>
<line x1="585.40" y1="121.80" x2="587" y2="121.80" stroke="#333" stroke-width="0.4"/>
<text transform="translate(584.20,123.59) skewY(0.06)" font-size="4.26" text-anchor="end" fill="#1a1a1a" stroke="#1a1a1a" stroke-width="0.149">inclusion body</text>
<line x1="585.40" y1="131.80" x2="587" y2="131.80" stroke="#333" stroke-width="0.4"/>
<text transform="translate(584.20,133.59) skewY(0.06)" font-size="4.26" text-anchor="end" fill="#1a1a1a" stroke="#1a1a1a" stroke-width="0.149">somatodendritic compartment</text>
<line x1="585.40" y1="141.80" x2="587" y2="141.80" stroke="#333" stroke-width="0.4"/>
<text transform="translate(584.20,143.59) skewY(0.06)" font-size="4.26" text-anchor="end" fill="#1a1a1a" stroke="#1a1a1a" stroke-width="0.149">protein binding</text>
<line x1="585.40" y1="151.80" x2="587" y2="151.80" stroke="#333" stroke-width="0.4"/>
<text transform="translate(584.20,153.59) skewY(0.06)" font-size="4.26" text-anchor="end" fill="#1a1a1a" stroke="#1a1a1a" stroke-width="0.149">positive regulation of ossification</text>
<line x1="585.40" y1="161.80" x2="587" y2="161.80" stroke="#333" stroke-width="0.4"/>
<text transform="translate(584.20,163.59) skewY(0.06)" font-size="4.26" text-anchor="end" fill="#1a1a1a" stroke="#1a1a1a" stroke-width="0.149">enzyme binding</text>
<line x1="585.40" y1="171.80" x2="587" y2="171.80" stroke="#333" stroke-width="0.4"/>
<text transform="translate(584.20,173.59) skewY(0.06)" font-size="4.26" text-anchor="end" fill="#1a1a1a" stroke="#1a1a1a" stroke-width="0.149">positive regulation of bone resorption</text>
<line x1="585.40" y1="181.80" x2="587" y2="181.80" stroke="#333" stroke-width="0.4"/>
<text transform="translate(584.20,181.69) skewY(0.06)" font-size="4.26" text-anchor="end" fill="#1a1a1a" stroke="#1a1a1a" stroke-width="0.149">positive regulation of dendritic spine</text>
<text transform="translate(584.20,186.09) skewY(0.06)" font-size="4.26" text-anchor="end" fill="#1a1a1a" stroke="#1a1a1a" stroke-width="0.149">morphogenesis</text>
<line x1="585.40" y1="191.80" x2="587" y2="191.80" stroke="#333" stroke-width="0.4"/>
<text transform="translate(584.20,191.69) skewY(0.06)" font-size="4.26" text-anchor="end" fill="#1a1a1a" stroke="#1a1a1a" stroke-width="0.149">positive regulation of neutrophil</text>
<text transform="translate(584.20,196.09) skewY(0.06)" font-size="4.26" text-anchor="end" fill="#1a1a1a" stroke="#1a1a1a" stroke-width="0.149">chemotaxis</text>
<line x1="585.40" y1="201.80" x2="587" y2="201.80" stroke="#333" stroke-width="0.4"/>
<text transform="translate(584.20,199.49) skewY(0.06)" font-size="4.26" text-anchor="end" fill="#1a1a1a" stroke="#1a1a1a" stroke-width="0.149">negative regulation of extrinsic</text>
<text transform="translate(584.20,203.89) skewY(0.06)" font-size="4.26" text-anchor="end" fill="#1a1a1a" stroke="#1a1a1a" stroke-width="0.149">apoptotic signaling pathway in absence</text>
<text transform="translate(584.20,208.29) skewY(0.06)" font-size="4.26" text-anchor="end" fill="#1a1a1a" stroke="#1a1a1a" stroke-width="0.149">of ligand</text>
<line x1="585.40" y1="211.80" x2="587" y2="211.80" stroke="#333" stroke-width="0.4"/>
<text transform="translate(584.20,211.69) skewY(0.06)" font-size="4.26" text-anchor="end" fill="#1a1a1a" stroke="#1a1a1a" stroke-width="0.149">chaperone cofactor-dependent protein</text>
<text transform="translate(584.20,216.09) skewY(0.06)" font-size="4.26" text-anchor="end" fill="#1a1a1a" stroke="#1a1a1a" stroke-width="0.149">refolding</text>
<line x1="585.40" y1="221.80" x2="587" y2="221.80" stroke="#333" stroke-width="0.4"/>
<text transform="translate(584.20,223.59) skewY(0.06)" font-size="4.26" text-anchor="end" fill="#1a1a1a" stroke="#1a1a1a" stroke-width="0.149">NF-kappaB binding</text>
<line x1="595.30" y1="231.7" x2="595.30" y2="233.29999999999998" stroke="#333" stroke-width="0.4"/>
<text transform="translate(595.30,237.99) skewY(0.06)" font-size="4.26" text-anchor="middle" fill="#404040" stroke="#404040" stroke-width="0.192">0</text>
<line x1="611.00" y1="231.7" x2="611.00" y2="233.29999999999998" stroke="#333" stroke-width="0.4"/>
<text transform="translate(611.00,237.99) skewY(0.06)" font-size="4.26" text-anchor="middle" fill="#404040" stroke="#404040" stroke-width="0.192">50</text>
<line x1="626.70" y1="231.7" x2="626.70" y2="233.29999999999998" stroke="#333" stroke-width="0.4"/>
<text transform="translate(626.70,237.99) skewY(0.06)" font-size="4.26" text-anchor="middle" fill="#404040" stroke="#404040" stroke-width="0.192">100</text>
<line x1="642.40" y1="231.7" x2="642.40" y2="233.29999999999998" stroke="#333" stroke-width="0.4"/>
<text transform="translate(642.40,237.99) skewY(0.06)" font-size="4.26" text-anchor="middle" fill="#404040" stroke="#404040" stroke-width="0.192">150</text>
<line x1="658.10" y1="231.7" x2="658.10" y2="233.29999999999998" stroke="#333" stroke-width="0.4"/>
<text transform="translate(658.10,237.99) skewY(0.06)" font-size="4.26" text-anchor="middle" fill="#404040" stroke="#404040" stroke-width="0.192">200</text>
<line x1="673.80" y1="231.7" x2="673.80" y2="233.29999999999998" stroke="#333" stroke-width="0.4"/>
<text transform="translate(673.80,237.99) skewY(0.06)" font-size="4.26" text-anchor="middle" fill="#404040" stroke="#404040" stroke-width="0.192">250</text>
<text transform="translate(630.60,243.66) skewY(0.06)" font-size="4.2" text-anchor="middle" fill="#1a1a1a" stroke="#1a1a1a" stroke-width="0.189">Enrichment Score</text>
<text transform="translate(630.60,19.97) skewY(0.06)" font-size="5.16" text-anchor="middle" font-weight="bold" fill="#111" stroke="#111" stroke-width="0.062">Top 20 GO Term (HFHFD-TZPvsHFHFD-NS)</text>
<rect x="505.5" y="38.6" width="80.00" height="19.10" fill="none" stroke="#c4496a" stroke-width="0.6"/>
<rect x="539" y="89.7" width="46.50" height="6.00" fill="none" stroke="#c4496a" stroke-width="0.6"/>
<rect x="551.5" y="109.8" width="34.00" height="5.40" fill="none" stroke="#c4496a" stroke-width="0.6"/>
<rect x="553.3" y="160.5" width="31.80" height="4.70" fill="none" stroke="#c4496a" stroke-width="0.6"/>
<rect x="523.1" y="187.9" width="62.00" height="9.40" fill="none" stroke="#c4496a" stroke-width="0.6"/>
<rect x="509" y="208.4" width="76.10" height="17.60" fill="none" stroke="#c4496a" stroke-width="0.6"/>
<text transform="translate(678.60,24.36) skewY(0.06)" font-size="4.2" text-anchor="start" fill="#222" stroke="#222" stroke-width="0.084">GeneNumber</text>
<circle cx="683.6" cy="35.0" r="1.25" fill="#000"/>
<text transform="translate(689.20,36.39) skewY(0.06)" font-size="3.3" text-anchor="start" fill="#444">2</text>
<circle cx="683.6" cy="57.1" r="1.5" fill="#000"/>
<text transform="translate(689.20,58.49) skewY(0.06)" font-size="3.3" text-anchor="start" fill="#444">5</text>
<circle cx="683.6" cy="78.6" r="2.2" fill="#000"/>
<text transform="translate(689.20,79.99) skewY(0.06)" font-size="3.3" text-anchor="start" fill="#444">11</text>
<text transform="translate(678.60,97.56) skewY(0.06)" font-size="4.2" text-anchor="start" fill="#222" stroke="#222" stroke-width="0.084">p-value</text>
<defs><linearGradient id="a3g" x1="0" y1="0" x2="0" y2="1"><stop offset="0.000" stop-color="#313695"/><stop offset="0.100" stop-color="#4575b4"/><stop offset="0.200" stop-color="#74add1"/><stop offset="0.300" stop-color="#abd9e9"/><stop offset="0.400" stop-color="#e0f3f8"/><stop offset="0.500" stop-color="#ffffbf"/><stop offset="0.600" stop-color="#fee090"/><stop offset="0.700" stop-color="#fdae61"/><stop offset="0.800" stop-color="#f46d43"/><stop offset="0.900" stop-color="#d73027"/><stop offset="1.000" stop-color="#a50026"/></linearGradient></defs>
<rect x="678.6" y="99.2" width="8.10" height="58.80" fill="url(#a3g)"/>
<text transform="translate(688.60,107.60) skewY(0.06)" font-size="4.05" text-anchor="start" fill="#333" stroke="#333" stroke-width="0.081">0.0013</text>
<text transform="translate(688.60,118.30) skewY(0.06)" font-size="4.05" text-anchor="start" fill="#333" stroke="#333" stroke-width="0.081">0.001</text>
<text transform="translate(688.60,128.60) skewY(0.06)" font-size="4.05" text-anchor="start" fill="#333" stroke="#333" stroke-width="0.081">0.00075</text>
<text transform="translate(688.60,139.10) skewY(0.06)" font-size="4.05" text-anchor="start" fill="#333" stroke="#333" stroke-width="0.081">0.0005</text>
<text transform="translate(688.60,149.80) skewY(0.06)" font-size="4.05" text-anchor="start" fill="#333" stroke="#333" stroke-width="0.081">0.00025</text>
<text transform="translate(678.60,170.76) skewY(0.06)" font-size="4.2" text-anchor="start" fill="#222" stroke="#222" stroke-width="0.084">Category</text>
<circle cx="683.70" cy="181.30" r="1.30" fill="#000000"/>
<text transform="translate(688.60,182.74) skewY(0.06)" font-size="3.43" text-anchor="start" fill="#333" stroke="#333" stroke-width="0.069">biological process</text>
<polygon points="683.70,199.70 685.20,202.32 682.21,202.32" fill="#000000"/>
<text transform="translate(688.60,202.64) skewY(0.06)" font-size="3.43" text-anchor="start" fill="#333" stroke="#333" stroke-width="0.069">molecular function</text>
<rect x="682.40" y="219.60" width="2.60" height="2.60" fill="#000000"/>
<text transform="translate(688.60,222.34) skewY(0.06)" font-size="3.43" text-anchor="start" fill="#333" stroke="#333" stroke-width="0.069">cellular component</text>
<g stroke-width="0.35" fill="none">
<line x1="125.58" y1="287.6" x2="125.58" y2="494.6" stroke="#ececec" stroke-width="0.6"/>
<line x1="144.86" y1="287.6" x2="144.86" y2="494.6" stroke="#ececec" stroke-width="0.6"/>
<line x1="164.14" y1="287.6" x2="164.14" y2="494.6" stroke="#ececec" stroke-width="0.6"/>
<line x1="183.42" y1="287.6" x2="183.42" y2="494.6" stroke="#ececec" stroke-width="0.6"/>
<line x1="106.3" y1="297.40" x2="202.7" y2="297.40" stroke="#ececec" stroke-width="0.6"/>
<line x1="106.3" y1="307.30" x2="202.7" y2="307.30" stroke="#ececec" stroke-width="0.6"/>
<line x1="106.3" y1="317.20" x2="202.7" y2="317.20" stroke="#ececec" stroke-width="0.6"/>
<line x1="106.3" y1="327.10" x2="202.7" y2="327.10" stroke="#ececec" stroke-width="0.6"/>
<line x1="106.3" y1="337.00" x2="202.7" y2="337.00" stroke="#ececec" stroke-width="0.6"/>
<line x1="106.3" y1="346.90" x2="202.7" y2="346.90" stroke="#ececec" stroke-width="0.6"/>
<line x1="106.3" y1="356.80" x2="202.7" y2="356.80" stroke="#ececec" stroke-width="0.6"/>
<line x1="106.3" y1="366.70" x2="202.7" y2="366.70" stroke="#ececec" stroke-width="0.6"/>
<line x1="106.3" y1="376.60" x2="202.7" y2="376.60" stroke="#ececec" stroke-width="0.6"/>
<line x1="106.3" y1="386.50" x2="202.7" y2="386.50" stroke="#ececec" stroke-width="0.6"/>
<line x1="106.3" y1="396.40" x2="202.7" y2="396.40" stroke="#ececec" stroke-width="0.6"/>
<line x1="106.3" y1="406.30" x2="202.7" y2="406.30" stroke="#ececec" stroke-width="0.6"/>
<line x1="106.3" y1="416.20" x2="202.7" y2="416.20" stroke="#ececec" stroke-width="0.6"/>
<line x1="106.3" y1="426.10" x2="202.7" y2="426.10" stroke="#ececec" stroke-width="0.6"/>
<line x1="106.3" y1="436.00" x2="202.7" y2="436.00" stroke="#ececec" stroke-width="0.6"/>
<line x1="106.3" y1="445.90" x2="202.7" y2="445.90" stroke="#ececec" stroke-width="0.6"/>
<line x1="106.3" y1="455.80" x2="202.7" y2="455.80" stroke="#ececec" stroke-width="0.6"/>
<line x1="106.3" y1="465.70" x2="202.7" y2="465.70" stroke="#ececec" stroke-width="0.6"/>
<line x1="106.3" y1="475.60" x2="202.7" y2="475.60" stroke="#ececec" stroke-width="0.6"/>
<line x1="106.3" y1="485.50" x2="202.7" y2="485.50" stroke="#ececec" stroke-width="0.6"/>
</g>
<circle cx="169.60" cy="297.40" r="2.00" fill="#b40a2a" stroke="#70061a" stroke-width="0.45"/>
<circle cx="177.96" cy="307.30" r="1.80" fill="#b40a2a" stroke="#70061a" stroke-width="0.45"/>
<circle cx="155.79" cy="317.20" r="1.80" fill="#b40a2a" stroke="#70061a" stroke-width="0.45"/>
<circle cx="130.72" cy="327.10" r="2.10" fill="#b80e2a" stroke="#73081a" stroke-width="0.45"/>
<circle cx="152.57" cy="337.00" r="1.80" fill="#b80e2a" stroke="#73081a" stroke-width="0.45"/>
<circle cx="159.96" cy="346.90" r="1.60" fill="#b80e2a" stroke="#73081a" stroke-width="0.45"/>
<circle cx="127.19" cy="356.80" r="2.00" fill="#bb1229" stroke="#750b19" stroke-width="0.45"/>
<circle cx="123.65" cy="366.70" r="2.00" fill="#bb1229" stroke="#750b19" stroke-width="0.45"/>
<circle cx="139.08" cy="376.60" r="1.60" fill="#c61d28" stroke="#7e1219" stroke-width="0.45"/>
<circle cx="125.58" cy="386.50" r="1.80" fill="#dd3c2d" stroke="#93271d" stroke-width="0.45"/>
<circle cx="120.44" cy="396.40" r="1.90" fill="#e85538" stroke="#a03a26" stroke-width="0.45"/>
<circle cx="130.08" cy="406.30" r="1.60" fill="#ee613d" stroke="#a8442b" stroke-width="0.45"/>
<circle cx="119.15" cy="416.20" r="1.90" fill="#f67a49" stroke="#b55935" stroke-width="0.45"/>
<circle cx="126.22" cy="426.10" r="1.60" fill="#fdbd6f" stroke="#d29d5c" stroke-width="0.45"/>
<circle cx="137.47" cy="436.00" r="1.30" fill="#fff6b1" stroke="#efe6a6" stroke-width="0.45"/>
<circle cx="122.37" cy="445.90" r="1.60" fill="#e0f3f8" stroke="#d0e2e6" stroke-width="0.45"/>
<circle cx="132.97" cy="455.80" r="1.40" fill="#c0e3ef" stroke="#a8c7d1" stroke-width="0.45"/>
<circle cx="132.97" cy="465.70" r="1.30" fill="#c0e3ef" stroke="#a8c7d1" stroke-width="0.45"/>
<circle cx="121.08" cy="475.60" r="1.60" fill="#74add1" stroke="#56819c" stroke-width="0.45"/>
<circle cx="116.90" cy="485.50" r="1.70" fill="#313695" stroke="#1e215c" stroke-width="0.45"/>
<rect x="106.3" y="287.6" width="96.40" height="207.00" fill="none" stroke="#555" stroke-width="0.9"/>
<line x1="104.70" y1="297.40" x2="106.3" y2="297.40" stroke="#333" stroke-width="0.4"/>
<text transform="translate(103.40,299.40) skewY(0.06)" font-size="4.77" text-anchor="end" fill="#1a1a1a" stroke="#1a1a1a" stroke-width="0.215">Biosynthesis of unsaturated fatty acids</text>
<line x1="104.70" y1="307.30" x2="106.3" y2="307.30" stroke="#333" stroke-width="0.4"/>
<text transform="translate(103.40,309.30) skewY(0.06)" font-size="4.77" text-anchor="end" fill="#1a1a1a" stroke="#1a1a1a" stroke-width="0.215">Steroid biosynthesis</text>
<line x1="104.70" y1="317.20" x2="106.3" y2="317.20" stroke="#333" stroke-width="0.4"/>
<text transform="translate(103.40,319.20) skewY(0.06)" font-size="4.77" text-anchor="end" fill="#1a1a1a" stroke="#1a1a1a" stroke-width="0.215">Fatty acid elongation</text>
<line x1="104.70" y1="327.10" x2="106.3" y2="327.10" stroke="#333" stroke-width="0.4"/>
<text transform="translate(103.40,329.10) skewY(0.06)" font-size="4.77" text-anchor="end" fill="#1a1a1a" stroke="#1a1a1a" stroke-width="0.215">PPAR signaling pathway</text>
<line x1="104.70" y1="337.00" x2="106.3" y2="337.00" stroke="#333" stroke-width="0.4"/>
<text transform="translate(103.40,339.00) skewY(0.06)" font-size="4.77" text-anchor="end" fill="#1a1a1a" stroke="#1a1a1a" stroke-width="0.215">Propanoate metabolism</text>
<line x1="104.70" y1="346.90" x2="106.3" y2="346.90" stroke="#333" stroke-width="0.4"/>
<text transform="translate(103.40,348.90) skewY(0.06)" font-size="4.77" text-anchor="end" fill="#1a1a1a" stroke="#1a1a1a" stroke-width="0.215">Fatty acid biosynthesis</text>
<line x1="104.70" y1="356.80" x2="106.3" y2="356.80" stroke="#333" stroke-width="0.4"/>
<text transform="translate(103.40,358.80) skewY(0.06)" font-size="4.77" text-anchor="end" fill="#1a1a1a" stroke="#1a1a1a" stroke-width="0.215">Insulin secretion</text>
<line x1="104.70" y1="366.70" x2="106.3" y2="366.70" stroke="#333" stroke-width="0.4"/>
<text transform="translate(103.40,368.70) skewY(0.06)" font-size="4.77" text-anchor="end" fill="#1a1a1a" stroke="#1a1a1a" stroke-width="0.215">Glucagon signaling pathway</text>
<line x1="104.70" y1="376.60" x2="106.3" y2="376.60" stroke="#333" stroke-width="0.4"/>
<text transform="translate(103.40,378.60) skewY(0.06)" font-size="4.77" text-anchor="end" fill="#1a1a1a" stroke="#1a1a1a" stroke-width="0.215">Pentose phosphate pathway</text>
<line x1="104.70" y1="386.50" x2="106.3" y2="386.50" stroke="#333" stroke-width="0.4"/>
<text transform="translate(103.40,388.50) skewY(0.06)" font-size="4.77" text-anchor="end" fill="#1a1a1a" stroke="#1a1a1a" stroke-width="0.215">Gastric acid secretion</text>
<line x1="104.70" y1="396.40" x2="106.3" y2="396.40" stroke="#333" stroke-width="0.4"/>
<text transform="translate(103.40,398.40) skewY(0.06)" font-size="4.77" text-anchor="end" fill="#1a1a1a" stroke="#1a1a1a" stroke-width="0.215">AMPK signaling pathway</text>
<line x1="104.70" y1="406.30" x2="106.3" y2="406.30" stroke="#333" stroke-width="0.4"/>
<text transform="translate(103.40,408.30) skewY(0.06)" font-size="4.77" text-anchor="end" fill="#1a1a1a" stroke="#1a1a1a" stroke-width="0.215">Pyruvate metabolism</text>
<line x1="104.70" y1="416.20" x2="106.3" y2="416.20" stroke="#333" stroke-width="0.4"/>
<text transform="translate(103.40,418.20) skewY(0.06)" font-size="4.77" text-anchor="end" fill="#1a1a1a" stroke="#1a1a1a" stroke-width="0.215">Insulin signaling pathway</text>
<line x1="104.70" y1="426.10" x2="106.3" y2="426.10" stroke="#333" stroke-width="0.4"/>
<text transform="translate(103.40,428.10) skewY(0.06)" font-size="4.77" text-anchor="end" fill="#1a1a1a" stroke="#1a1a1a" stroke-width="0.215">Mineral absorption</text>
<line x1="104.70" y1="436.00" x2="106.3" y2="436.00" stroke="#333" stroke-width="0.4"/>
<text transform="translate(103.40,438.00) skewY(0.06)" font-size="4.77" text-anchor="end" fill="#1a1a1a" stroke="#1a1a1a" stroke-width="0.215">Terpenoid backbone biosynthesis</text>
<line x1="104.70" y1="445.90" x2="106.3" y2="445.90" stroke="#333" stroke-width="0.4"/>
<text transform="translate(103.40,447.90) skewY(0.06)" font-size="4.77" text-anchor="end" fill="#1a1a1a" stroke="#1a1a1a" stroke-width="0.215">Glycolysis / Gluconeogenesis</text>
<line x1="104.70" y1="455.80" x2="106.3" y2="455.80" stroke="#333" stroke-width="0.4"/>
<text transform="translate(103.40,457.80) skewY(0.06)" font-size="4.77" text-anchor="end" fill="#1a1a1a" stroke="#1a1a1a" stroke-width="0.215">Maturity onset diabetes of the young</text>
<line x1="104.70" y1="465.70" x2="106.3" y2="465.70" stroke="#333" stroke-width="0.4"/>
<text transform="translate(103.40,467.70) skewY(0.06)" font-size="4.77" text-anchor="end" fill="#1a1a1a" stroke="#1a1a1a" stroke-width="0.215">Butanoate metabolism</text>
<line x1="104.70" y1="475.60" x2="106.3" y2="475.60" stroke="#333" stroke-width="0.4"/>
<text transform="translate(103.40,475.45) skewY(0.06)" font-size="4.77" text-anchor="end" fill="#1a1a1a" stroke="#1a1a1a" stroke-width="0.215">Metabolism of xenobiotics by cytochrome</text>
<text transform="translate(103.40,480.35) skewY(0.06)" font-size="4.77" text-anchor="end" fill="#1a1a1a" stroke="#1a1a1a" stroke-width="0.215">P450</text>
<line x1="104.70" y1="485.50" x2="106.3" y2="485.50" stroke="#333" stroke-width="0.4"/>
<text transform="translate(103.40,487.50) skewY(0.06)" font-size="4.77" text-anchor="end" fill="#1a1a1a" stroke="#1a1a1a" stroke-width="0.215">Alcoholic liver disease</text>
<line x1="106.30" y1="494.6" x2="106.30" y2="496.20000000000005" stroke="#333" stroke-width="0.4"/>
<text transform="translate(106.30,501.80) skewY(0.06)" font-size="4.75" text-anchor="middle" fill="#404040" stroke="#404040" stroke-width="0.214">0</text>
<line x1="125.58" y1="494.6" x2="125.58" y2="496.20000000000005" stroke="#333" stroke-width="0.4"/>
<text transform="translate(125.58,501.80) skewY(0.06)" font-size="4.75" text-anchor="middle" fill="#404040" stroke="#404040" stroke-width="0.214">6</text>
<line x1="144.86" y1="494.6" x2="144.86" y2="496.20000000000005" stroke="#333" stroke-width="0.4"/>
<text transform="translate(144.86,501.80) skewY(0.06)" font-size="4.75" text-anchor="middle" fill="#404040" stroke="#404040" stroke-width="0.214">12</text>
<line x1="164.14" y1="494.6" x2="164.14" y2="496.20000000000005" stroke="#333" stroke-width="0.4"/>
<text transform="translate(164.14,501.80) skewY(0.06)" font-size="4.75" text-anchor="middle" fill="#404040" stroke="#404040" stroke-width="0.214">18</text>
<line x1="183.42" y1="494.6" x2="183.42" y2="496.20000000000005" stroke="#333" stroke-width="0.4"/>
<text transform="translate(183.42,501.80) skewY(0.06)" font-size="4.75" text-anchor="middle" fill="#404040" stroke="#404040" stroke-width="0.214">24</text>
<line x1="202.70" y1="494.6" x2="202.70" y2="496.20000000000005" stroke="#333" stroke-width="0.4"/>
<text transform="translate(202.70,501.80) skewY(0.06)" font-size="4.75" text-anchor="middle" fill="#404040" stroke="#404040" stroke-width="0.214">30</text>
<text transform="translate(154.50,507.69) skewY(0.06)" font-size="4.75" text-anchor="middle" fill="#1a1a1a" stroke="#1a1a1a" stroke-width="0.214">Enrichment Score</text>
<text transform="translate(154.50,285.40) skewY(0.06)" font-size="5.72" text-anchor="middle" font-weight="bold" fill="#111" stroke="#111" stroke-width="0.069">KEGG Enrichment top 20(HFHFD-NSvsCON)</text>
<rect x="19.5" y="293.3" width="84.30" height="7.60" fill="none" stroke="#cf3038" stroke-width="0.75"/>
<rect x="44.6" y="303.6" width="60.10" height="27.20" fill="none" stroke="#cf3038" stroke-width="0.75"/>
<rect x="37.4" y="371.5" width="67.10" height="9.70" fill="none" stroke="#cf3038" stroke-width="0.75"/>
<rect x="43.2" y="391.8" width="61.30" height="18.10" fill="none" stroke="#cf3038" stroke-width="0.75"/>
<rect x="38.8" y="442.2" width="65.40" height="8.10" fill="none" stroke="#cf3038" stroke-width="0.75"/>
<rect x="15" y="469.2" width="88.60" height="13.20" fill="none" stroke="#cf3038" stroke-width="0.75"/>
<text transform="translate(207.90,331.00) skewY(0.06)" font-size="4.75" text-anchor="start" fill="#222" stroke="#222" stroke-width="0.095">GeneNumber</text>
<circle cx="213.8" cy="342.0" r="1.7" fill="#000"/>
<text transform="translate(219.80,343.64) skewY(0.06)" font-size="3.9" text-anchor="start" fill="#444">2</text>
<circle cx="213.8" cy="363.7" r="2.1" fill="#000"/>
<text transform="translate(219.80,365.34) skewY(0.06)" font-size="3.9" text-anchor="start" fill="#444">4</text>
<circle cx="213.8" cy="385.5" r="2.5" fill="#000"/>
<text transform="translate(219.80,387.14) skewY(0.06)" font-size="3.9" text-anchor="start" fill="#444">6</text>
<text transform="translate(207.90,403.30) skewY(0.06)" font-size="4.75" text-anchor="start" fill="#222" stroke="#222" stroke-width="0.095">p-value</text>
<defs><linearGradient id="b1g" x1="0" y1="0" x2="0" y2="1"><stop offset="0.000" stop-color="#313695"/><stop offset="0.100" stop-color="#4575b4"/><stop offset="0.200" stop-color="#74add1"/><stop offset="0.300" stop-color="#abd9e9"/><stop offset="0.400" stop-color="#e0f3f8"/><stop offset="0.500" stop-color="#ffffbf"/><stop offset="0.600" stop-color="#fee090"/><stop offset="0.700" stop-color="#fdae61"/><stop offset="0.800" stop-color="#f46d43"/><stop offset="0.900" stop-color="#d73027"/><stop offset="1.000" stop-color="#a50026"/></linearGradient></defs>
<rect x="207.9" y="405.7" width="9.10" height="57.30" fill="url(#b1g)"/>
<text transform="translate(219.20,417.51) skewY(0.06)" font-size="4.55" text-anchor="start" fill="#333" stroke="#333" stroke-width="0.091">0.03</text>
<text transform="translate(219.20,433.81) skewY(0.06)" font-size="4.55" text-anchor="start" fill="#333" stroke="#333" stroke-width="0.091">0.02</text>
<text transform="translate(219.20,449.71) skewY(0.06)" font-size="4.55" text-anchor="start" fill="#333" stroke="#333" stroke-width="0.091">0.01</text>
<g stroke-width="0.35" fill="none">
<line x1="369.40" y1="288.1" x2="369.40" y2="494.1" stroke="#ececec" stroke-width="0.6"/>
<line x1="388.72" y1="288.1" x2="388.72" y2="494.1" stroke="#ececec" stroke-width="0.6"/>
<line x1="408.04" y1="288.1" x2="408.04" y2="494.1" stroke="#ececec" stroke-width="0.6"/>
<line x1="427.36" y1="288.1" x2="427.36" y2="494.1" stroke="#ececec" stroke-width="0.6"/>
<line x1="446.68" y1="288.1" x2="446.68" y2="494.1" stroke="#ececec" stroke-width="0.6"/>
<line x1="369.2" y1="297.30" x2="466" y2="297.30" stroke="#ececec" stroke-width="0.6"/>
<line x1="369.2" y1="307.20" x2="466" y2="307.20" stroke="#ececec" stroke-width="0.6"/>
<line x1="369.2" y1="317.10" x2="466" y2="317.10" stroke="#ececec" stroke-width="0.6"/>
<line x1="369.2" y1="327.00" x2="466" y2="327.00" stroke="#ececec" stroke-width="0.6"/>
<line x1="369.2" y1="336.90" x2="466" y2="336.90" stroke="#ececec" stroke-width="0.6"/>
<line x1="369.2" y1="346.80" x2="466" y2="346.80" stroke="#ececec" stroke-width="0.6"/>
<line x1="369.2" y1="356.70" x2="466" y2="356.70" stroke="#ececec" stroke-width="0.6"/>
<line x1="369.2" y1="366.60" x2="466" y2="366.60" stroke="#ececec" stroke-width="0.6"/>
<line x1="369.2" y1="376.50" x2="466" y2="376.50" stroke="#ececec" stroke-width="0.6"/>
<line x1="369.2" y1="386.40" x2="466" y2="386.40" stroke="#ececec" stroke-width="0.6"/>
<line x1="369.2" y1="396.30" x2="466" y2="396.30" stroke="#ececec" stroke-width="0.6"/>
<line x1="369.2" y1="406.20" x2="466" y2="406.20" stroke="#ececec" stroke-width="0.6"/>
<line x1="369.2" y1="416.10" x2="466" y2="416.10" stroke="#ececec" stroke-width="0.6"/>
<line x1="369.2" y1="426.00" x2="466" y2="426.00" stroke="#ececec" stroke-width="0.6"/>
<line x1="369.2" y1="435.90" x2="466" y2="435.90" stroke="#ececec" stroke-width="0.6"/>
<line x1="369.2" y1="445.80" x2="466" y2="445.80" stroke="#ececec" stroke-width="0.6"/>
<line x1="369.2" y1="455.70" x2="466" y2="455.70" stroke="#ececec" stroke-width="0.6"/>
<line x1="369.2" y1="465.60" x2="466" y2="465.60" stroke="#ececec" stroke-width="0.6"/>
<line x1="369.2" y1="475.50" x2="466" y2="475.50" stroke="#ececec" stroke-width="0.6"/>
<line x1="369.2" y1="485.40" x2="466" y2="485.40" stroke="#ececec" stroke-width="0.6"/>
</g>
<circle cx="408.68" cy="297.30" r="1.80" fill="#b40a2a" stroke="#70061a" stroke-width="0.45"/>
<circle cx="441.53" cy="307.20" r="1.40" fill="#b40a2a" stroke="#70061a" stroke-width="0.45"/>
<circle cx="389.36" cy="317.10" r="2.00" fill="#b80e2a" stroke="#73081a" stroke-width="0.45"/>
<circle cx="392.58" cy="327.00" r="1.80" fill="#b80e2a" stroke="#73081a" stroke-width="0.45"/>
<circle cx="400.96" cy="336.90" r="1.70" fill="#bb1229" stroke="#750b19" stroke-width="0.45"/>
<circle cx="389.36" cy="346.80" r="1.80" fill="#cc2528" stroke="#831719" stroke-width="0.45"/>
<circle cx="390.01" cy="356.70" r="1.80" fill="#d02828" stroke="#861919" stroke-width="0.45"/>
<circle cx="394.52" cy="366.60" r="1.70" fill="#d42c27" stroke="#8a1c19" stroke-width="0.45"/>
<circle cx="389.69" cy="376.50" r="1.70" fill="#da362a" stroke="#8f231b" stroke-width="0.45"/>
<circle cx="400.96" cy="386.40" r="1.50" fill="#e34832" stroke="#9a3021" stroke-width="0.45"/>
<circle cx="395.48" cy="396.30" r="1.70" fill="#dd3c2d" stroke="#93271d" stroke-width="0.45"/>
<circle cx="395.16" cy="406.20" r="1.70" fill="#e0422f" stroke="#962c1f" stroke-width="0.45"/>
<circle cx="399.02" cy="416.10" r="1.30" fill="#fee395" stroke="#e4cc85" stroke-width="0.45"/>
<circle cx="388.72" cy="426.00" r="1.40" fill="#fef0a8" stroke="#ebde9b" stroke-width="0.45"/>
<circle cx="389.69" cy="435.90" r="1.50" fill="#d0ebf4" stroke="#bbd4dc" stroke-width="0.45"/>
<circle cx="387.75" cy="445.80" r="1.60" fill="#bbe1ee" stroke="#a2c3cf" stroke-width="0.45"/>
<circle cx="395.16" cy="455.70" r="1.40" fill="#abd9e9" stroke="#90b7c5" stroke-width="0.45"/>
<circle cx="391.30" cy="465.60" r="1.60" fill="#95c7df" stroke="#779fb3" stroke-width="0.45"/>
<circle cx="389.04" cy="475.50" r="1.70" fill="#7fb6d6" stroke="#618ba4" stroke-width="0.45"/>
<circle cx="390.65" cy="485.40" r="1.50" fill="#313695" stroke="#1e215c" stroke-width="0.45"/>
<rect x="369.2" y="288.1" width="96.80" height="206.00" fill="none" stroke="#555" stroke-width="0.9"/>
<line x1="367.60" y1="297.30" x2="369.2" y2="297.30" stroke="#333" stroke-width="0.4"/>
<text transform="translate(366.60,299.30) skewY(0.06)" font-size="4.77" text-anchor="end" fill="#1a1a1a" stroke="#1a1a1a" stroke-width="0.215">PPAR signaling pathway</text>
<line x1="367.60" y1="307.20" x2="369.2" y2="307.20" stroke="#333" stroke-width="0.4"/>
<text transform="translate(366.60,309.20) skewY(0.06)" font-size="4.77" text-anchor="end" fill="#1a1a1a" stroke="#1a1a1a" stroke-width="0.215">Proximal tubule bicarbonate reclamation</text>
<line x1="367.60" y1="317.10" x2="369.2" y2="317.10" stroke="#333" stroke-width="0.4"/>
<text transform="translate(366.60,319.10) skewY(0.06)" font-size="4.77" text-anchor="end" fill="#1a1a1a" stroke="#1a1a1a" stroke-width="0.215">cAMP signaling pathway</text>
<line x1="367.60" y1="327.00" x2="369.2" y2="327.00" stroke="#333" stroke-width="0.4"/>
<text transform="translate(366.60,329.00) skewY(0.06)" font-size="4.77" text-anchor="end" fill="#1a1a1a" stroke="#1a1a1a" stroke-width="0.215">Apelin signaling pathway</text>
<line x1="367.60" y1="336.90" x2="369.2" y2="336.90" stroke="#333" stroke-width="0.4"/>
<text transform="translate(366.60,338.90) skewY(0.06)" font-size="4.77" text-anchor="end" fill="#1a1a1a" stroke="#1a1a1a" stroke-width="0.215">Adipocytokine signaling pathway</text>
<line x1="367.60" y1="346.80" x2="369.2" y2="346.80" stroke="#333" stroke-width="0.4"/>
<text transform="translate(366.60,348.80) skewY(0.06)" font-size="4.77" text-anchor="end" fill="#1a1a1a" stroke="#1a1a1a" stroke-width="0.215">cGMP-PKG signaling pathway</text>
<line x1="367.60" y1="356.70" x2="369.2" y2="356.70" stroke="#333" stroke-width="0.4"/>
<text transform="translate(366.60,358.70) skewY(0.06)" font-size="4.77" text-anchor="end" fill="#1a1a1a" stroke="#1a1a1a" stroke-width="0.215">Oxytocin signaling pathway</text>
<line x1="367.60" y1="366.60" x2="369.2" y2="366.60" stroke="#333" stroke-width="0.4"/>
<text transform="translate(366.60,368.60) skewY(0.06)" font-size="4.77" text-anchor="end" fill="#1a1a1a" stroke="#1a1a1a" stroke-width="0.215">Glucagon signaling pathway</text>
<line x1="367.60" y1="376.50" x2="369.2" y2="376.50" stroke="#333" stroke-width="0.4"/>
<text transform="translate(366.60,378.50) skewY(0.06)" font-size="4.77" text-anchor="end" fill="#1a1a1a" stroke="#1a1a1a" stroke-width="0.215">Adrenergic signaling in cardiomyocytes</text>
<line x1="367.60" y1="386.40" x2="369.2" y2="386.40" stroke="#333" stroke-width="0.4"/>
<text transform="translate(366.60,386.30) skewY(0.06)" font-size="4.77" text-anchor="end" fill="#1a1a1a" stroke="#1a1a1a" stroke-width="0.215">Longevity regulating pathway - multiple</text>
<text transform="translate(366.60,391.10) skewY(0.06)" font-size="4.77" text-anchor="end" fill="#1a1a1a" stroke="#1a1a1a" stroke-width="0.215">species</text>
<line x1="367.60" y1="396.30" x2="369.2" y2="396.30" stroke="#333" stroke-width="0.4"/>
<text transform="translate(366.60,398.30) skewY(0.06)" font-size="4.77" text-anchor="end" fill="#1a1a1a" stroke="#1a1a1a" stroke-width="0.215">Salivary secretion</text>
<line x1="367.60" y1="406.20" x2="369.2" y2="406.20" stroke="#333" stroke-width="0.4"/>
<text transform="translate(366.60,408.20) skewY(0.06)" font-size="4.77" text-anchor="end" fill="#1a1a1a" stroke="#1a1a1a" stroke-width="0.215">Cardiac muscle contraction</text>
<line x1="367.60" y1="416.10" x2="369.2" y2="416.10" stroke="#333" stroke-width="0.4"/>
<text transform="translate(366.60,418.10) skewY(0.06)" font-size="4.77" text-anchor="end" fill="#1a1a1a" stroke="#1a1a1a" stroke-width="0.215">Mineral absorption</text>
<line x1="367.60" y1="426.00" x2="369.2" y2="426.00" stroke="#333" stroke-width="0.4"/>
<text transform="translate(366.60,428.00) skewY(0.06)" font-size="4.77" text-anchor="end" fill="#1a1a1a" stroke="#1a1a1a" stroke-width="0.215">FoxO signaling pathway</text>
<line x1="367.60" y1="435.90" x2="369.2" y2="435.90" stroke="#333" stroke-width="0.4"/>
<text transform="translate(366.60,437.90) skewY(0.06)" font-size="4.77" text-anchor="end" fill="#1a1a1a" stroke="#1a1a1a" stroke-width="0.215">Insulin resistance</text>
<line x1="367.60" y1="445.80" x2="369.2" y2="445.80" stroke="#333" stroke-width="0.4"/>
<text transform="translate(366.60,447.80) skewY(0.06)" font-size="4.77" text-anchor="end" fill="#1a1a1a" stroke="#1a1a1a" stroke-width="0.215">Insulin signaling pathway</text>
<line x1="367.60" y1="455.70" x2="369.2" y2="455.70" stroke="#333" stroke-width="0.4"/>
<text transform="translate(366.60,455.60) skewY(0.06)" font-size="4.77" text-anchor="end" fill="#1a1a1a" stroke="#1a1a1a" stroke-width="0.215">Endocrine and other factor-regulated</text>
<text transform="translate(366.60,460.40) skewY(0.06)" font-size="4.77" text-anchor="end" fill="#1a1a1a" stroke="#1a1a1a" stroke-width="0.215">calcium reabsorption</text>
<line x1="367.60" y1="465.60" x2="369.2" y2="465.60" stroke="#333" stroke-width="0.4"/>
<text transform="translate(366.60,467.60) skewY(0.06)" font-size="4.77" text-anchor="end" fill="#1a1a1a" stroke="#1a1a1a" stroke-width="0.215">Insulin secretion</text>
<line x1="367.60" y1="475.50" x2="369.2" y2="475.50" stroke="#333" stroke-width="0.4"/>
<text transform="translate(366.60,477.50) skewY(0.06)" font-size="4.77" text-anchor="end" fill="#1a1a1a" stroke="#1a1a1a" stroke-width="0.215">Pancreatic secretion</text>
<line x1="367.60" y1="485.40" x2="369.2" y2="485.40" stroke="#333" stroke-width="0.4"/>
<text transform="translate(366.60,487.40) skewY(0.06)" font-size="4.77" text-anchor="end" fill="#1a1a1a" stroke="#1a1a1a" stroke-width="0.215">Hypertrophic cardiomyopathy</text>
<line x1="369.40" y1="494.1" x2="369.40" y2="495.70000000000005" stroke="#333" stroke-width="0.4"/>
<text transform="translate(369.40,501.30) skewY(0.06)" font-size="4.75" text-anchor="middle" fill="#404040" stroke="#404040" stroke-width="0.214">0</text>
<line x1="388.72" y1="494.1" x2="388.72" y2="495.70000000000005" stroke="#333" stroke-width="0.4"/>
<text transform="translate(388.72,501.30) skewY(0.06)" font-size="4.75" text-anchor="middle" fill="#404040" stroke="#404040" stroke-width="0.214">3</text>
<line x1="408.04" y1="494.1" x2="408.04" y2="495.70000000000005" stroke="#333" stroke-width="0.4"/>
<text transform="translate(408.04,501.30) skewY(0.06)" font-size="4.75" text-anchor="middle" fill="#404040" stroke="#404040" stroke-width="0.214">6</text>
<line x1="427.36" y1="494.1" x2="427.36" y2="495.70000000000005" stroke="#333" stroke-width="0.4"/>
<text transform="translate(427.36,501.30) skewY(0.06)" font-size="4.75" text-anchor="middle" fill="#404040" stroke="#404040" stroke-width="0.214">9</text>
<line x1="446.68" y1="494.1" x2="446.68" y2="495.70000000000005" stroke="#333" stroke-width="0.4"/>
<text transform="translate(446.68,501.30) skewY(0.06)" font-size="4.75" text-anchor="middle" fill="#404040" stroke="#404040" stroke-width="0.214">12</text>
<line x1="466.00" y1="494.1" x2="466.00" y2="495.70000000000005" stroke="#333" stroke-width="0.4"/>
<text transform="translate(466.00,501.30) skewY(0.06)" font-size="4.75" text-anchor="middle" fill="#404040" stroke="#404040" stroke-width="0.214">15</text>
<text transform="translate(417.60,507.50) skewY(0.06)" font-size="4.75" text-anchor="middle" fill="#1a1a1a" stroke="#1a1a1a" stroke-width="0.214">Enrichment Score</text>
<text transform="translate(417.60,285.40) skewY(0.06)" font-size="5.72" text-anchor="middle" font-weight="bold" fill="#111" stroke="#111" stroke-width="0.069">KEGG Enrichment top 20(HFHFD-SemavsHFHFD-NS)</text>
<rect x="310" y="293.1" width="57.70" height="7.50" fill="none" stroke="#cf3038" stroke-width="0.75"/>
<rect x="288.3" y="313.1" width="79.40" height="28.10" fill="none" stroke="#cf3038" stroke-width="0.75"/>
<rect x="313.4" y="422.8" width="53.60" height="7.20" fill="none" stroke="#cf3038" stroke-width="0.75"/>
<text transform="translate(470.80,330.89) skewY(0.06)" font-size="4.75" text-anchor="start" fill="#222" stroke="#222" stroke-width="0.095">GeneNumber</text>
<circle cx="476.7" cy="341.9" r="1.7" fill="#000"/>
<text transform="translate(482.60,343.54) skewY(0.06)" font-size="3.9" text-anchor="start" fill="#444">5</text>
<circle cx="476.7" cy="363.8" r="1.9" fill="#000"/>
<text transform="translate(482.60,365.44) skewY(0.06)" font-size="3.9" text-anchor="start" fill="#444">8</text>
<circle cx="476.7" cy="385.7" r="2.3" fill="#000"/>
<text transform="translate(482.60,387.34) skewY(0.06)" font-size="3.9" text-anchor="start" fill="#444">14</text>
<text transform="translate(470.80,403.30) skewY(0.06)" font-size="4.75" text-anchor="start" fill="#222" stroke="#222" stroke-width="0.095">p-value</text>
<defs><linearGradient id="b2g" x1="0" y1="0" x2="0" y2="1"><stop offset="0.000" stop-color="#313695"/><stop offset="0.100" stop-color="#4575b4"/><stop offset="0.200" stop-color="#74add1"/><stop offset="0.300" stop-color="#abd9e9"/><stop offset="0.400" stop-color="#e0f3f8"/><stop offset="0.500" stop-color="#ffffbf"/><stop offset="0.600" stop-color="#fee090"/><stop offset="0.700" stop-color="#fdae61"/><stop offset="0.800" stop-color="#f46d43"/><stop offset="0.900" stop-color="#d73027"/><stop offset="1.000" stop-color="#a50026"/></linearGradient></defs>
<rect x="470.8" y="405.4" width="9.70" height="57.80" fill="url(#b2g)"/>
<text transform="translate(482.20,409.31) skewY(0.06)" font-size="4.55" text-anchor="start" fill="#333" stroke="#333" stroke-width="0.091">0.01</text>
<text transform="translate(482.20,420.71) skewY(0.06)" font-size="4.55" text-anchor="start" fill="#333" stroke="#333" stroke-width="0.091">0.008</text>
<text transform="translate(482.20,431.91) skewY(0.06)" font-size="4.55" text-anchor="start" fill="#333" stroke="#333" stroke-width="0.091">0.006</text>
<text transform="translate(482.20,443.01) skewY(0.06)" font-size="4.55" text-anchor="start" fill="#333" stroke="#333" stroke-width="0.091">0.004</text>
<text transform="translate(482.20,454.41) skewY(0.06)" font-size="4.55" text-anchor="start" fill="#333" stroke="#333" stroke-width="0.091">0.002</text>
<g stroke-width="0.35" fill="none">
<line x1="635.60" y1="288.4" x2="635.60" y2="494.1" stroke="#ececec" stroke-width="0.6"/>
<line x1="654.82" y1="288.4" x2="654.82" y2="494.1" stroke="#ececec" stroke-width="0.6"/>
<line x1="674.04" y1="288.4" x2="674.04" y2="494.1" stroke="#ececec" stroke-width="0.6"/>
<line x1="693.26" y1="288.4" x2="693.26" y2="494.1" stroke="#ececec" stroke-width="0.6"/>
<line x1="712.48" y1="288.4" x2="712.48" y2="494.1" stroke="#ececec" stroke-width="0.6"/>
<line x1="635.2" y1="297.40" x2="731.6" y2="297.40" stroke="#ececec" stroke-width="0.6"/>
<line x1="635.2" y1="307.30" x2="731.6" y2="307.30" stroke="#ececec" stroke-width="0.6"/>
<line x1="635.2" y1="317.20" x2="731.6" y2="317.20" stroke="#ececec" stroke-width="0.6"/>
<line x1="635.2" y1="327.10" x2="731.6" y2="327.10" stroke="#ececec" stroke-width="0.6"/>
<line x1="635.2" y1="337.00" x2="731.6" y2="337.00" stroke="#ececec" stroke-width="0.6"/>
<line x1="635.2" y1="346.90" x2="731.6" y2="346.90" stroke="#ececec" stroke-width="0.6"/>
<line x1="635.2" y1="356.80" x2="731.6" y2="356.80" stroke="#ececec" stroke-width="0.6"/>
<line x1="635.2" y1="366.70" x2="731.6" y2="366.70" stroke="#ececec" stroke-width="0.6"/>
<line x1="635.2" y1="376.60" x2="731.6" y2="376.60" stroke="#ececec" stroke-width="0.6"/>
<line x1="635.2" y1="386.50" x2="731.6" y2="386.50" stroke="#ececec" stroke-width="0.6"/>
<line x1="635.2" y1="396.40" x2="731.6" y2="396.40" stroke="#ececec" stroke-width="0.6"/>
<line x1="635.2" y1="406.30" x2="731.6" y2="406.30" stroke="#ececec" stroke-width="0.6"/>
<line x1="635.2" y1="416.20" x2="731.6" y2="416.20" stroke="#ececec" stroke-width="0.6"/>
<line x1="635.2" y1="426.10" x2="731.6" y2="426.10" stroke="#ececec" stroke-width="0.6"/>
<line x1="635.2" y1="436.00" x2="731.6" y2="436.00" stroke="#ececec" stroke-width="0.6"/>
<line x1="635.2" y1="445.90" x2="731.6" y2="445.90" stroke="#ececec" stroke-width="0.6"/>
<line x1="635.2" y1="455.80" x2="731.6" y2="455.80" stroke="#ececec" stroke-width="0.6"/>
<line x1="635.2" y1="465.70" x2="731.6" y2="465.70" stroke="#ececec" stroke-width="0.6"/>
<line x1="635.2" y1="475.60" x2="731.6" y2="475.60" stroke="#ececec" stroke-width="0.6"/>
<line x1="635.2" y1="485.50" x2="731.6" y2="485.50" stroke="#ececec" stroke-width="0.6"/>
</g>
<circle cx="674.42" cy="297.40" r="2.10" fill="#b40a2a" stroke="#70061a" stroke-width="0.45"/>
<circle cx="669.04" cy="307.30" r="1.90" fill="#b40a2a" stroke="#70061a" stroke-width="0.45"/>
<circle cx="709.02" cy="317.20" r="1.60" fill="#be1529" stroke="#780d19" stroke-width="0.45"/>
<circle cx="685.96" cy="327.10" r="1.60" fill="#c61d28" stroke="#7e1219" stroke-width="0.45"/>
<circle cx="681.73" cy="337.00" r="1.60" fill="#d02828" stroke="#861919" stroke-width="0.45"/>
<circle cx="673.66" cy="346.90" r="1.50" fill="#eb5b3b" stroke="#a43f29" stroke-width="0.45"/>
<circle cx="658.28" cy="356.80" r="1.70" fill="#f8874f" stroke="#bb653b" stroke-width="0.45"/>
<circle cx="669.43" cy="366.70" r="1.60" fill="#f99455" stroke="#bf7241" stroke-width="0.45"/>
<circle cx="657.13" cy="376.60" r="1.60" fill="#fdae61" stroke="#cc8c4e" stroke-width="0.45"/>
<circle cx="665.97" cy="386.50" r="1.50" fill="#fec778" stroke="#d7a865" stroke-width="0.45"/>
<circle cx="662.89" cy="396.40" r="1.50" fill="#fedb8b" stroke="#e0c17a" stroke-width="0.45"/>
<circle cx="689.03" cy="406.30" r="1.20" fill="#fff9b6" stroke="#f1ebac" stroke-width="0.45"/>
<circle cx="683.27" cy="416.20" r="1.30" fill="#cbe9f2" stroke="#b5d0d8" stroke-width="0.45"/>
<circle cx="682.88" cy="426.10" r="1.20" fill="#c6e6f0" stroke="#afcbd4" stroke-width="0.45"/>
<circle cx="660.20" cy="436.00" r="1.60" fill="#bbe1ee" stroke="#a2c3cf" stroke-width="0.45"/>
<circle cx="657.13" cy="445.90" r="1.70" fill="#4e80ba" stroke="#35577f" stroke-width="0.45"/>
<circle cx="675.19" cy="455.80" r="1.40" fill="#3b56a4" stroke="#253769" stroke-width="0.45"/>
<circle cx="674.04" cy="465.70" r="1.40" fill="#394fa1" stroke="#243266" stroke-width="0.45"/>
<circle cx="673.66" cy="475.60" r="1.40" fill="#37499e" stroke="#222e64" stroke-width="0.45"/>
<circle cx="655.97" cy="485.50" r="1.70" fill="#35439b" stroke="#212a61" stroke-width="0.45"/>
<rect x="635.2" y="288.4" width="96.40" height="205.70" fill="none" stroke="#555" stroke-width="0.9"/>
<line x1="633.60" y1="297.40" x2="635.2" y2="297.40" stroke="#333" stroke-width="0.4"/>
<text transform="translate(632.40,299.40) skewY(0.06)" font-size="4.77" text-anchor="end" fill="#1a1a1a" stroke="#1a1a1a" stroke-width="0.215">cAMP signaling pathway</text>
<line x1="633.60" y1="307.30" x2="635.2" y2="307.30" stroke="#333" stroke-width="0.4"/>
<text transform="translate(632.40,309.30) skewY(0.06)" font-size="4.77" text-anchor="end" fill="#1a1a1a" stroke="#1a1a1a" stroke-width="0.215">Lipid and atherosclerosis</text>
<line x1="633.60" y1="317.20" x2="635.2" y2="317.20" stroke="#333" stroke-width="0.4"/>
<text transform="translate(632.40,319.20) skewY(0.06)" font-size="4.77" text-anchor="end" fill="#1a1a1a" stroke="#1a1a1a" stroke-width="0.215">Legionellosis</text>
<line x1="633.60" y1="327.10" x2="635.2" y2="327.10" stroke="#333" stroke-width="0.4"/>
<text transform="translate(632.40,329.10) skewY(0.06)" font-size="4.77" text-anchor="end" fill="#1a1a1a" stroke="#1a1a1a" stroke-width="0.215">Insulin secretion</text>
<line x1="633.60" y1="337.00" x2="635.2" y2="337.00" stroke="#333" stroke-width="0.4"/>
<text transform="translate(632.40,339.00) skewY(0.06)" font-size="4.77" text-anchor="end" fill="#1a1a1a" stroke="#1a1a1a" stroke-width="0.215">Steroid hormone biosynthesis</text>
<line x1="633.60" y1="346.90" x2="635.2" y2="346.90" stroke="#333" stroke-width="0.4"/>
<text transform="translate(632.40,348.90) skewY(0.06)" font-size="4.77" text-anchor="end" fill="#1a1a1a" stroke="#1a1a1a" stroke-width="0.215">HIF-1 signaling pathway</text>
<line x1="633.60" y1="356.80" x2="635.2" y2="356.80" stroke="#333" stroke-width="0.4"/>
<text transform="translate(632.40,358.80) skewY(0.06)" font-size="4.77" text-anchor="end" fill="#1a1a1a" stroke="#1a1a1a" stroke-width="0.215">Calcium signaling pathway</text>
<line x1="633.60" y1="366.70" x2="635.2" y2="366.70" stroke="#333" stroke-width="0.4"/>
<text transform="translate(632.40,366.55) skewY(0.06)" font-size="4.77" text-anchor="end" fill="#1a1a1a" stroke="#1a1a1a" stroke-width="0.215">Inflammatory mediator regulation of TRP</text>
<text transform="translate(632.40,371.45) skewY(0.06)" font-size="4.77" text-anchor="end" fill="#1a1a1a" stroke="#1a1a1a" stroke-width="0.215">channels</text>
<line x1="633.60" y1="376.60" x2="635.2" y2="376.60" stroke="#333" stroke-width="0.4"/>
<text transform="translate(632.40,378.60) skewY(0.06)" font-size="4.77" text-anchor="end" fill="#1a1a1a" stroke="#1a1a1a" stroke-width="0.215">Prion disease</text>
<line x1="633.60" y1="386.50" x2="635.2" y2="386.50" stroke="#333" stroke-width="0.4"/>
<text transform="translate(632.40,388.50) skewY(0.06)" font-size="4.77" text-anchor="end" fill="#1a1a1a" stroke="#1a1a1a" stroke-width="0.215">Measles</text>
<line x1="633.60" y1="396.40" x2="635.2" y2="396.40" stroke="#333" stroke-width="0.4"/>
<text transform="translate(632.40,398.40) skewY(0.06)" font-size="4.77" text-anchor="end" fill="#1a1a1a" stroke="#1a1a1a" stroke-width="0.215">Adrenergic signaling in cardiomyocytes</text>
<line x1="633.60" y1="406.30" x2="635.2" y2="406.30" stroke="#333" stroke-width="0.4"/>
<text transform="translate(632.40,408.30) skewY(0.06)" font-size="4.77" text-anchor="end" fill="#1a1a1a" stroke="#1a1a1a" stroke-width="0.215">Mineral absorption</text>
<line x1="633.60" y1="416.20" x2="635.2" y2="416.20" stroke="#333" stroke-width="0.4"/>
<text transform="translate(632.40,416.05) skewY(0.06)" font-size="4.77" text-anchor="end" fill="#1a1a1a" stroke="#1a1a1a" stroke-width="0.215">Longevity regulating pathway - multiple</text>
<text transform="translate(632.40,420.95) skewY(0.06)" font-size="4.77" text-anchor="end" fill="#1a1a1a" stroke="#1a1a1a" stroke-width="0.215">species</text>
<line x1="633.60" y1="426.10" x2="635.2" y2="426.10" stroke="#333" stroke-width="0.4"/>
<text transform="translate(632.40,425.95) skewY(0.06)" font-size="4.77" text-anchor="end" fill="#1a1a1a" stroke="#1a1a1a" stroke-width="0.215">Endocrine and other factor-regulated</text>
<text transform="translate(632.40,430.85) skewY(0.06)" font-size="4.77" text-anchor="end" fill="#1a1a1a" stroke="#1a1a1a" stroke-width="0.215">calcium reabsorption</text>
<line x1="633.60" y1="436.00" x2="635.2" y2="436.00" stroke="#333" stroke-width="0.4"/>
<text transform="translate(632.40,438.00) skewY(0.06)" font-size="4.77" text-anchor="end" fill="#1a1a1a" stroke="#1a1a1a" stroke-width="0.215">Tuberculosis</text>
<line x1="633.60" y1="445.90" x2="635.2" y2="445.90" stroke="#333" stroke-width="0.4"/>
<text transform="translate(632.40,447.90) skewY(0.06)" font-size="4.77" text-anchor="end" fill="#1a1a1a" stroke="#1a1a1a" stroke-width="0.215">Proteoglycans in cancer</text>
<line x1="633.60" y1="455.80" x2="635.2" y2="455.80" stroke="#333" stroke-width="0.4"/>
<text transform="translate(632.40,455.65) skewY(0.06)" font-size="4.77" text-anchor="end" fill="#1a1a1a" stroke="#1a1a1a" stroke-width="0.215">Metabolism of xenobiotics by cytochrome</text>
<text transform="translate(632.40,460.55) skewY(0.06)" font-size="4.77" text-anchor="end" fill="#1a1a1a" stroke="#1a1a1a" stroke-width="0.215">P450</text>
<line x1="633.60" y1="465.70" x2="635.2" y2="465.70" stroke="#333" stroke-width="0.4"/>
<text transform="translate(632.40,467.70) skewY(0.06)" font-size="4.77" text-anchor="end" fill="#1a1a1a" stroke="#1a1a1a" stroke-width="0.215">Renin secretion</text>
<line x1="633.60" y1="475.60" x2="635.2" y2="475.60" stroke="#333" stroke-width="0.4"/>
<text transform="translate(632.40,477.60) skewY(0.06)" font-size="4.77" text-anchor="end" fill="#1a1a1a" stroke="#1a1a1a" stroke-width="0.215">Gastric acid secretion</text>
<line x1="633.60" y1="485.50" x2="635.2" y2="485.50" stroke="#333" stroke-width="0.4"/>
<text transform="translate(632.40,485.35) skewY(0.06)" font-size="4.77" text-anchor="end" fill="#1a1a1a" stroke="#1a1a1a" stroke-width="0.215">Chemical carcinogenesis - receptor</text>
<text transform="translate(632.40,490.25) skewY(0.06)" font-size="4.77" text-anchor="end" fill="#1a1a1a" stroke="#1a1a1a" stroke-width="0.215">activation</text>
<line x1="635.60" y1="494.1" x2="635.60" y2="495.70000000000005" stroke="#333" stroke-width="0.4"/>
<text transform="translate(635.60,501.30) skewY(0.06)" font-size="4.75" text-anchor="middle" fill="#404040" stroke="#404040" stroke-width="0.214">0</text>
<line x1="654.82" y1="494.1" x2="654.82" y2="495.70000000000005" stroke="#333" stroke-width="0.4"/>
<text transform="translate(654.82,501.30) skewY(0.06)" font-size="4.75" text-anchor="middle" fill="#404040" stroke="#404040" stroke-width="0.214">5</text>
<line x1="674.04" y1="494.1" x2="674.04" y2="495.70000000000005" stroke="#333" stroke-width="0.4"/>
<text transform="translate(674.04,501.30) skewY(0.06)" font-size="4.75" text-anchor="middle" fill="#404040" stroke="#404040" stroke-width="0.214">10</text>
<line x1="693.26" y1="494.1" x2="693.26" y2="495.70000000000005" stroke="#333" stroke-width="0.4"/>
<text transform="translate(693.26,501.30) skewY(0.06)" font-size="4.75" text-anchor="middle" fill="#404040" stroke="#404040" stroke-width="0.214">15</text>
<line x1="712.48" y1="494.1" x2="712.48" y2="495.70000000000005" stroke="#333" stroke-width="0.4"/>
<text transform="translate(712.48,501.30) skewY(0.06)" font-size="4.75" text-anchor="middle" fill="#404040" stroke="#404040" stroke-width="0.214">20</text>
<line x1="731.70" y1="494.1" x2="731.70" y2="495.70000000000005" stroke="#333" stroke-width="0.4"/>
<text transform="translate(731.70,501.30) skewY(0.06)" font-size="4.75" text-anchor="middle" fill="#404040" stroke="#404040" stroke-width="0.214">25</text>
<text transform="translate(683.40,507.50) skewY(0.06)" font-size="4.75" text-anchor="middle" fill="#1a1a1a" stroke="#1a1a1a" stroke-width="0.214">Enrichment Score</text>
<text transform="translate(683.40,285.40) skewY(0.06)" font-size="5.72" text-anchor="middle" font-weight="bold" fill="#111" stroke="#111" stroke-width="0.069">KEGG Enrichment top 20(HFHFD-TZPvsHFHFD-NS)</text>
<rect x="577.3" y="293.6" width="55.40" height="7.00" fill="none" stroke="#cf3038" stroke-width="0.75"/>
<rect x="545.5" y="333.2" width="88.10" height="38.80" fill="none" stroke="#cf3038" stroke-width="0.75"/>
<rect x="544.5" y="450.4" width="88.90" height="11.00" fill="none" stroke="#cf3038" stroke-width="0.75"/>
<text transform="translate(737.10,330.89) skewY(0.06)" font-size="4.75" text-anchor="start" fill="#222" stroke="#222" stroke-width="0.095">GeneNumber</text>
<circle cx="742.7" cy="341.9" r="1.7" fill="#000"/>
<text transform="translate(748.60,343.54) skewY(0.06)" font-size="3.9" text-anchor="start" fill="#444">2</text>
<circle cx="742.7" cy="363.8" r="2.1" fill="#000"/>
<text transform="translate(748.60,365.44) skewY(0.06)" font-size="3.9" text-anchor="start" fill="#444">4</text>
<circle cx="742.7" cy="385.5" r="2.5" fill="#000"/>
<text transform="translate(748.60,387.14) skewY(0.06)" font-size="3.9" text-anchor="start" fill="#444">6</text>
<text transform="translate(737.10,403.30) skewY(0.06)" font-size="4.75" text-anchor="start" fill="#222" stroke="#222" stroke-width="0.095">p-value</text>
<defs><linearGradient id="b3g" x1="0" y1="0" x2="0" y2="1"><stop offset="0.000" stop-color="#313695"/><stop offset="0.100" stop-color="#4575b4"/><stop offset="0.200" stop-color="#74add1"/><stop offset="0.300" stop-color="#abd9e9"/><stop offset="0.400" stop-color="#e0f3f8"/><stop offset="0.500" stop-color="#ffffbf"/><stop offset="0.600" stop-color="#fee090"/><stop offset="0.700" stop-color="#fdae61"/><stop offset="0.800" stop-color="#f46d43"/><stop offset="0.900" stop-color="#d73027"/><stop offset="1.000" stop-color="#a50026"/></linearGradient></defs>
<rect x="736.8" y="406.1" width="9.40" height="57.10" fill="url(#b3g)"/>
<text transform="translate(748.20,416.11) skewY(0.06)" font-size="4.55" text-anchor="start" fill="#333" stroke="#333" stroke-width="0.091">0.015</text>
<text transform="translate(748.20,432.41) skewY(0.06)" font-size="4.55" text-anchor="start" fill="#333" stroke="#333" stroke-width="0.091">0.01</text>
<text transform="translate(748.20,449.11) skewY(0.06)" font-size="4.55" text-anchor="start" fill="#333" stroke="#333" stroke-width="0.091">0.005</text>
</svg>
</body></html>
